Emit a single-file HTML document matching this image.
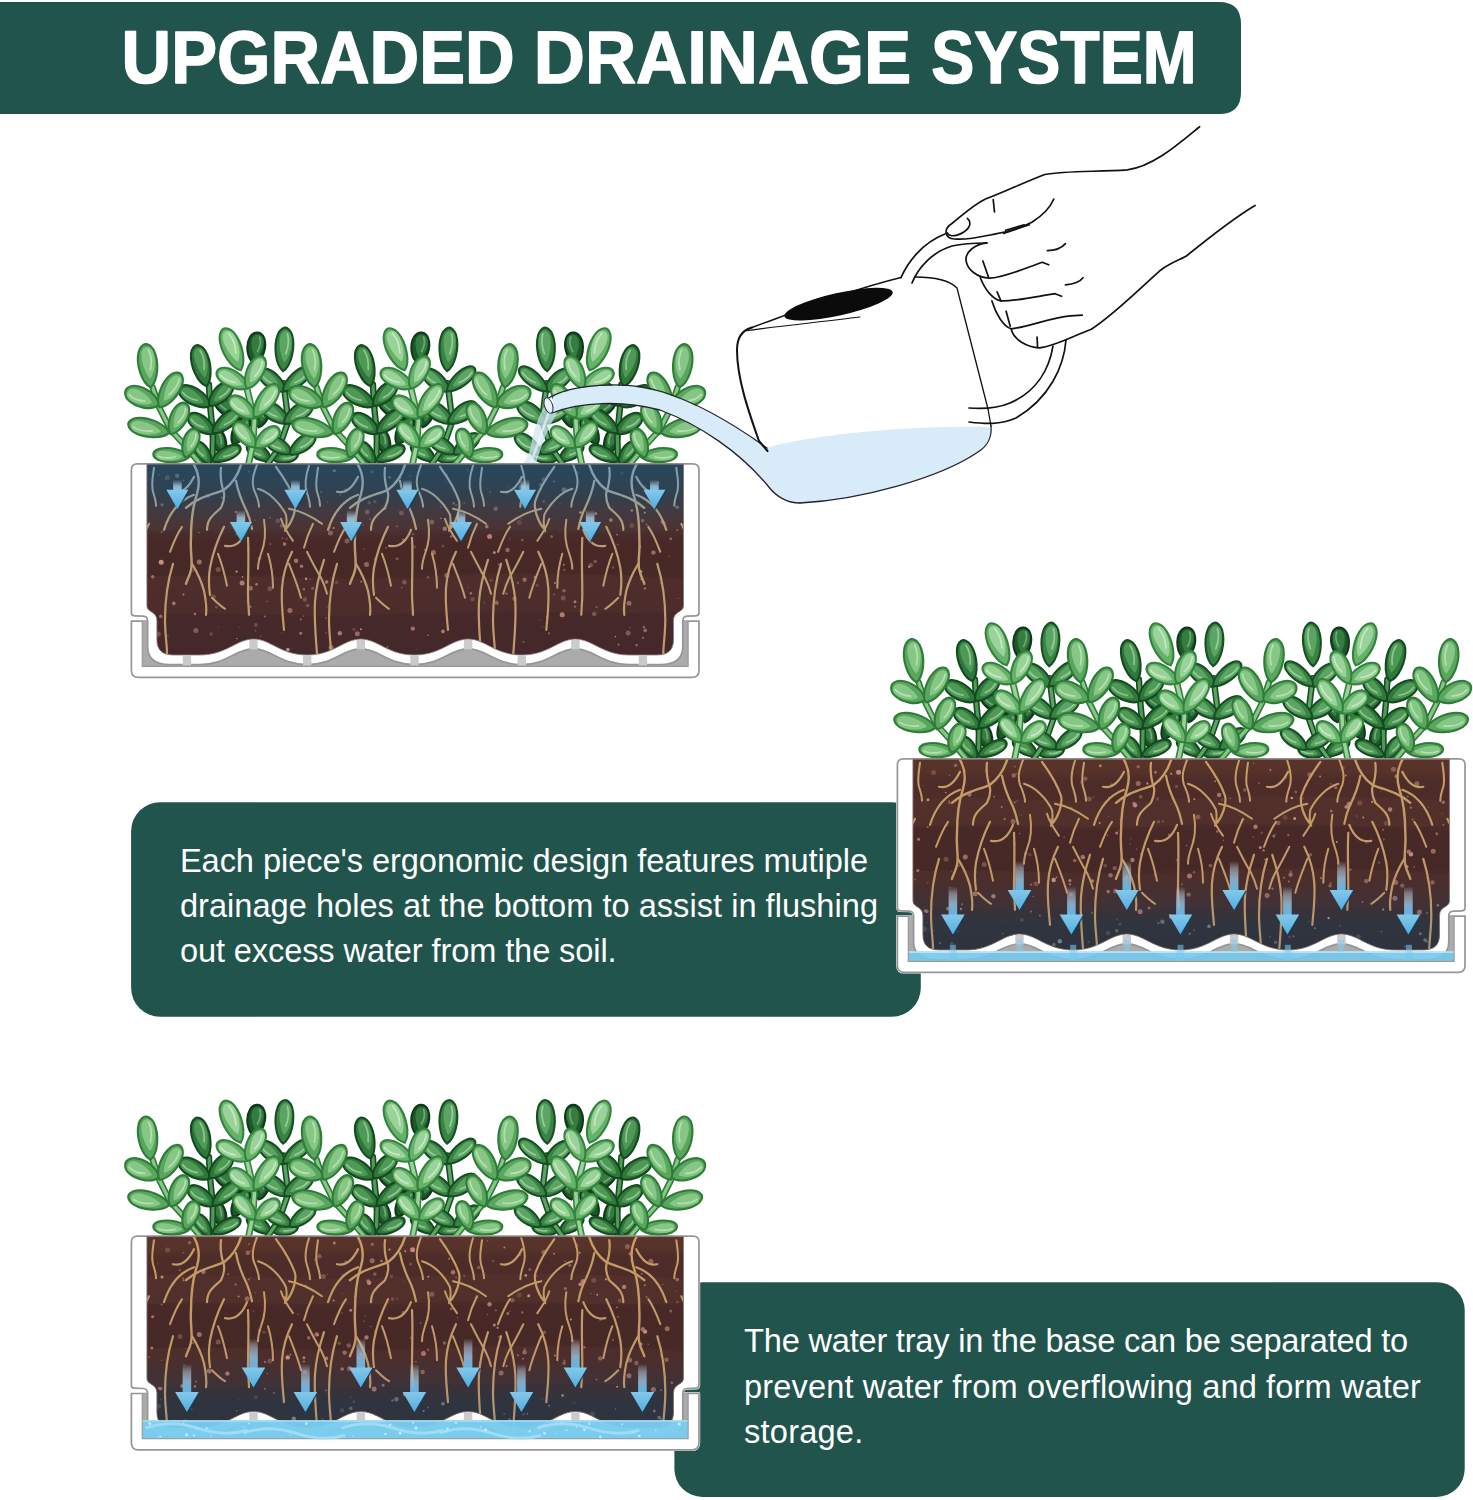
<!DOCTYPE html>
<html lang="en"><head><meta charset="utf-8"><title>Upgraded Drainage System</title>
<style>
html,body{margin:0;padding:0;background:#fff;}
body{width:1473px;height:1500px;position:relative;overflow:hidden;font-family:"Liberation Sans",Arial,sans-serif;}
svg{position:absolute;left:0;top:0;display:block;}
.txt{position:absolute;color:#fff;font-size:32.6px;line-height:45.25px;white-space:nowrap;margin:0;}
.txt span{display:block;}
#t1{left:179.9px;top:837.9px;}
#t2{left:744.1px;top:1318.3px;}
#a1{letter-spacing:-0.055px}#a2{letter-spacing:0.018px}#a3{letter-spacing:-0.110px}
#b1{letter-spacing:-0.213px}#b2{letter-spacing:0.116px}#b3{letter-spacing:0.200px}
</style></head><body>
<svg width="1473" height="1500" viewBox="0 0 1473 1500">
<defs>
<linearGradient id="soilg" x1="0" y1="0" x2="0" y2="1"><stop offset="0" stop-color="#59342b"/><stop offset="0.06" stop-color="#56322a"/><stop offset="0.1" stop-color="#4d2c29"/><stop offset="0.5" stop-color="#492a29"/><stop offset="1" stop-color="#43272b"/></linearGradient>
<linearGradient id="wetTop" x1="0" y1="0" x2="0" y2="1"><stop offset="0" stop-color="#27475c" stop-opacity="1"/><stop offset="0.3" stop-color="#2b4558" stop-opacity="0.92"/><stop offset="0.7" stop-color="#3a3f4c" stop-opacity="0.5"/><stop offset="1" stop-color="#4a3a3c" stop-opacity="0"/></linearGradient>
<linearGradient id="wetLow" x1="0" y1="0" x2="0" y2="1"><stop offset="0" stop-color="#3a3540" stop-opacity="0"/><stop offset="0.28" stop-color="#363640" stop-opacity="0.5"/><stop offset="0.5" stop-color="#2f3540" stop-opacity="0.94"/><stop offset="1" stop-color="#2b323f" stop-opacity="1"/></linearGradient>
<linearGradient id="rootTop" gradientUnits="userSpaceOnUse" x1="0" y1="0" x2="0" y2="214"><stop offset="0" stop-color="#809fad"/><stop offset="0.12" stop-color="#889fa4"/><stop offset="0.3" stop-color="#ba9c75"/><stop offset="1" stop-color="#c29a66"/></linearGradient>
<linearGradient id="rootLow" gradientUnits="userSpaceOnUse" x1="0" y1="0" x2="0" y2="214"><stop offset="0" stop-color="#c69d66"/><stop offset="0.6" stop-color="#bf9867"/><stop offset="0.9" stop-color="#ad9377"/><stop offset="1" stop-color="#a09382"/></linearGradient>
<linearGradient id="tailA" x1="0" y1="0" x2="0" y2="1"><stop offset="0" stop-color="#b9d3e0" stop-opacity="0"/><stop offset="0.6" stop-color="#a9cfe4" stop-opacity="0.8"/><stop offset="1" stop-color="#7cc3e8"/></linearGradient>
<linearGradient id="tailB" x1="0" y1="0" x2="0" y2="1"><stop offset="0" stop-color="#d5e0e8" stop-opacity="0"/><stop offset="0.25" stop-color="#b9cbd8" stop-opacity="0.5"/><stop offset="0.6" stop-color="#93bedb" stop-opacity="0.85"/><stop offset="1" stop-color="#5db5e6"/></linearGradient>
<linearGradient id="headg" x1="0" y1="0" x2="0" y2="1"><stop offset="0" stop-color="#84c8ea"/><stop offset="1" stop-color="#52aee0"/></linearGradient>
<g id="stA"><path d="M76,0.7 L59.7,-19 L44.8,-35.3 L33.9,-57 L27.2,-77.4 " fill="none" stroke="#2f7b39" stroke-width="6.4" stroke-linecap="round" stroke-linejoin="round"/><path d="M76,0.7 L59.7,-19 L44.8,-35.3 L33.9,-57 L27.2,-77.4 " fill="none" stroke="#86c785" stroke-width="3.2" stroke-linecap="round" stroke-linejoin="round"/><g transform="translate(64.4,-8) rotate(-86)"><path d="M0,0 C6.1,-4.8 8.8,-20.5 5.6,-30.8 C4.2,-35 1.4,-36.6 0,-36.6 C-1.4,-36.6 -4.2,-35 -5.6,-30.8 C-8.8,-20.5 -6.1,-4.8 0,0 Z" fill="#5aa65e" stroke="#2f7b39" stroke-width="2.1"/><path d="M0.4,-7.3 C4.3,-11 6.9,-22 4.9,-30 C3.3,-35.5 -2.2,-35.5 -3.6,-29.3 C-5.1,-22 -2.2,-11 0.4,-7.3 Z" fill="#86c785" transform="scale(-1,1)"/><path d="M-1.4,-14.7 Q-4.3,-24.2 -1.9,-31.5" fill="none" stroke="#c2e6bb" stroke-width="1.7" stroke-linecap="round" opacity="0.8"/></g><g transform="translate(59.8,-7.3) rotate(20)"><path d="M0,0 C6.7,-3.9 9.6,-16.8 6.1,-25.3 C4.6,-28.7 1.6,-30.1 0,-30.1 C-1.6,-30.1 -4.6,-28.7 -6.1,-25.3 C-9.6,-16.8 -6.7,-3.9 0,0 Z" fill="#5aa65e" stroke="#2f7b39" stroke-width="2.1"/><path d="M0.4,-6 C4.7,-9 7.5,-18 5.4,-24.7 C3.5,-29.2 -2.4,-29.2 -3.9,-24.1 C-5.5,-18 -2.4,-9 0.4,-6 Z" fill="#86c785" transform="scale(1,1)"/><path d="M1.6,-12 Q4.7,-19.8 2,-25.9" fill="none" stroke="#c2e6bb" stroke-width="1.7" stroke-linecap="round" opacity="0.8"/></g><g transform="translate(43.8,-31.7) rotate(-77)"><path d="M0,0 C7.8,-5.5 11.2,-23.5 7.1,-35.2 C5.3,-40.1 1.8,-42 0,-42 C-1.8,-42 -5.3,-40.1 -7.1,-35.2 C-11.2,-23.5 -7.8,-5.5 0,0 Z" fill="#5aa65e" stroke="#2f7b39" stroke-width="2.1"/><path d="M0.5,-8.4 C5.5,-12.6 8.7,-25.2 6.2,-34.4 C4.1,-40.7 -2.7,-40.7 -4.6,-33.6 C-6.4,-25.2 -2.7,-12.6 0.5,-8.4 Z" fill="#86c785" transform="scale(-1,1)"/><path d="M-1.8,-16.8 Q-5.5,-27.7 -2.4,-36.1" fill="none" stroke="#c2e6bb" stroke-width="1.7" stroke-linecap="round" opacity="0.8"/></g><g transform="translate(45.2,-30.5) rotate(26)"><path d="M0,0 C7.2,-4.5 10.4,-19.2 6.6,-28.8 C4.9,-32.7 1.7,-34.3 0,-34.3 C-1.7,-34.3 -4.9,-32.7 -6.6,-28.8 C-10.4,-19.2 -7.2,-4.5 0,0 Z" fill="#5aa65e" stroke="#2f7b39" stroke-width="2.1"/><path d="M0.4,-6.9 C5.1,-10.3 8.1,-20.6 5.8,-28.1 C3.8,-33.2 -2.6,-33.2 -4.3,-27.4 C-6,-20.6 -2.6,-10.3 0.4,-6.9 Z" fill="#86c785" transform="scale(1,1)"/><path d="M1.7,-13.7 Q5.1,-22.6 2.2,-29.5" fill="none" stroke="#c2e6bb" stroke-width="1.7" stroke-linecap="round" opacity="0.8"/></g><g transform="translate(33.6,-59.4) rotate(-66)"><path d="M0,0 C8.3,-4.8 12,-20.5 7.6,-30.8 C5.7,-35 2,-36.6 0,-36.6 C-2,-36.6 -5.7,-35 -7.6,-30.8 C-12,-20.5 -8.3,-4.8 0,0 Z" fill="#5aa65e" stroke="#2f7b39" stroke-width="2.1"/><path d="M0.5,-7.3 C5.9,-11 9.3,-22 6.7,-30 C4.4,-35.5 -2.9,-35.5 -4.9,-29.3 C-6.9,-22 -2.9,-11 0.5,-7.3 Z" fill="#86c785" transform="scale(-1,1)"/><path d="M-2,-14.7 Q-5.9,-24.2 -2.5,-31.5" fill="none" stroke="#c2e6bb" stroke-width="1.7" stroke-linecap="round" opacity="0.8"/></g><g transform="translate(34,-57.3) rotate(31)"><path d="M0,0 C7.8,-5.2 11.2,-22.3 7.1,-33.5 C5.3,-38.1 1.8,-39.9 0,-39.9 C-1.8,-39.9 -5.3,-38.1 -7.1,-33.5 C-11.2,-22.3 -7.8,-5.2 0,0 Z" fill="#5aa65e" stroke="#2f7b39" stroke-width="2.1"/><path d="M0.5,-8 C5.5,-12 8.7,-23.9 6.2,-32.7 C4.1,-38.7 -2.7,-38.7 -4.6,-31.9 C-6.4,-23.9 -2.7,-12 0.5,-8 Z" fill="#86c785" transform="scale(1,1)"/><path d="M1.8,-15.9 Q5.5,-26.3 2.4,-34.3" fill="none" stroke="#c2e6bb" stroke-width="1.7" stroke-linecap="round" opacity="0.8"/></g><g transform="translate(25.2,-77.2) rotate(-7)"><path d="M0,0 C8.3,-5.7 12,-24.4 7.6,-36.7 C5.7,-41.7 2,-43.6 0,-43.6 C-2,-43.6 -5.7,-41.7 -7.6,-36.7 C-12,-24.4 -8.3,-5.7 0,0 Z" fill="#5aa65e" stroke="#2f7b39" stroke-width="2.1"/><path d="M0.5,-8.7 C5.9,-13.1 9.3,-26.2 6.7,-35.8 C4.4,-42.3 -2.9,-42.3 -4.9,-34.9 C-6.9,-26.2 -2.9,-13.1 0.5,-8.7 Z" fill="#86c785" transform="scale(1,1)"/><path d="M2,-17.5 Q5.9,-28.8 2.5,-37.5" fill="none" stroke="#c2e6bb" stroke-width="1.7" stroke-linecap="round" opacity="0.8"/></g></g><g id="stB"><path d="M86.9,0.7 L87.6,-29.9 L84.9,-57 L83.5,-80.1 " fill="none" stroke="#154a20" stroke-width="6.4" stroke-linecap="round" stroke-linejoin="round"/><path d="M86.9,0.7 L87.6,-29.9 L84.9,-57 L83.5,-80.1 " fill="none" stroke="#4f9957" stroke-width="3.2" stroke-linecap="round" stroke-linejoin="round"/><g transform="translate(85.3,-0.7) rotate(-35)"><path d="M0,0 C5.5,-3.5 7.9,-14.9 5,-22.3 C3.7,-25.4 1.3,-26.6 0,-26.6 C-1.3,-26.6 -3.7,-25.4 -5,-22.3 C-7.9,-14.9 -5.5,-3.5 0,0 Z" fill="#2f773b" stroke="#154a20" stroke-width="2.1"/><path d="M0.3,-5.3 C3.9,-8 6.1,-15.9 4.4,-21.8 C2.9,-25.8 -1.9,-25.8 -3.2,-21.3 C-4.5,-15.9 -1.9,-8 0.3,-5.3 Z" fill="#4f9957" transform="scale(-1,1)"/><path d="M-1.3,-10.6 Q-3.9,-17.5 -1.7,-22.9" fill="none" stroke="#a0d0a0" stroke-width="1.7" stroke-linecap="round" opacity="0.8"/></g><g transform="translate(86.6,-3.7) rotate(64)"><path d="M0,0 C5.6,-4.1 8,-17.6 5.1,-26.4 C3.8,-30.1 1.3,-31.5 0,-31.5 C-1.3,-31.5 -3.8,-30.1 -5.1,-26.4 C-8,-17.6 -5.6,-4.1 0,0 Z" fill="#2f773b" stroke="#154a20" stroke-width="2.1"/><path d="M0.3,-6.3 C3.9,-9.4 6.2,-18.9 4.5,-25.8 C3,-30.5 -2,-30.5 -3.3,-25.2 C-4.6,-18.9 -2,-9.4 0.3,-6.3 Z" fill="#4f9957" transform="scale(1,1)"/><path d="M1.3,-12.6 Q3.9,-20.8 1.7,-27.1" fill="none" stroke="#a0d0a0" stroke-width="1.7" stroke-linecap="round" opacity="0.8"/></g><g transform="translate(89.2,-31.4) rotate(-55)"><path d="M0,0 C6.7,-4.1 9.6,-17.6 6.1,-26.4 C4.6,-30.1 1.6,-31.5 0,-31.5 C-1.6,-31.5 -4.6,-30.1 -6.1,-26.4 C-9.6,-17.6 -6.7,-4.1 0,0 Z" fill="#2f773b" stroke="#154a20" stroke-width="2.1"/><path d="M0.4,-6.3 C4.7,-9.4 7.5,-18.9 5.4,-25.8 C3.5,-30.5 -2.4,-30.5 -3.9,-25.2 C-5.5,-18.9 -2.4,-9.4 0.4,-6.3 Z" fill="#4f9957" transform="scale(-1,1)"/><path d="M-1.6,-12.6 Q-4.7,-20.8 -2,-27.1" fill="none" stroke="#a0d0a0" stroke-width="1.7" stroke-linecap="round" opacity="0.8"/></g><g transform="translate(87.1,-31.7) rotate(50)"><path d="M0,0 C6.1,-4.6 8.8,-20 5.6,-30 C4.2,-34.1 1.4,-35.7 0,-35.7 C-1.4,-35.7 -4.2,-34.1 -5.6,-30 C-8.8,-20 -6.1,-4.6 0,0 Z" fill="#2f773b" stroke="#154a20" stroke-width="2.1"/><path d="M0.4,-7.1 C4.3,-10.7 6.9,-21.4 4.9,-29.2 C3.3,-34.6 -2.2,-34.6 -3.6,-28.5 C-5.1,-21.4 -2.2,-10.7 0.4,-7.1 Z" fill="#4f9957" transform="scale(1,1)"/><path d="M1.4,-14.3 Q4.3,-23.5 1.9,-30.7" fill="none" stroke="#a0d0a0" stroke-width="1.7" stroke-linecap="round" opacity="0.8"/></g><g transform="translate(85,-58.7) rotate(-60)"><path d="M0,0 C7.2,-4.6 10.4,-20 6.6,-30 C4.9,-34.1 1.7,-35.7 0,-35.7 C-1.7,-35.7 -4.9,-34.1 -6.6,-30 C-10.4,-20 -7.2,-4.6 0,0 Z" fill="#2f773b" stroke="#154a20" stroke-width="2.1"/><path d="M0.4,-7.1 C5.1,-10.7 8.1,-21.4 5.8,-29.2 C3.8,-34.6 -2.6,-34.6 -4.3,-28.5 C-6,-21.4 -2.6,-10.7 0.4,-7.1 Z" fill="#4f9957" transform="scale(-1,1)"/><path d="M-1.7,-14.3 Q-5.1,-23.5 -2.2,-30.7" fill="none" stroke="#a0d0a0" stroke-width="1.7" stroke-linecap="round" opacity="0.8"/></g><g transform="translate(83.9,-59.2) rotate(45)"><path d="M0,0 C6.7,-4.1 9.6,-17.6 6.1,-26.4 C4.6,-30.1 1.6,-31.5 0,-31.5 C-1.6,-31.5 -4.6,-30.1 -6.1,-26.4 C-9.6,-17.6 -6.7,-4.1 0,0 Z" fill="#2f773b" stroke="#154a20" stroke-width="2.1"/><path d="M0.4,-6.3 C4.7,-9.4 7.5,-18.9 5.4,-25.8 C3.5,-30.5 -2.4,-30.5 -3.9,-25.2 C-5.5,-18.9 -2.4,-9.4 0.4,-6.3 Z" fill="#4f9957" transform="scale(1,1)"/><path d="M1.6,-12.6 Q4.7,-20.8 2,-27.1" fill="none" stroke="#a0d0a0" stroke-width="1.7" stroke-linecap="round" opacity="0.8"/></g><g transform="translate(81.1,-78.4) rotate(-14)"><path d="M0,0 C7.8,-5.5 11.2,-23.7 7.1,-35.5 C5.3,-40.3 1.8,-42.2 0,-42.2 C-1.8,-42.2 -5.3,-40.3 -7.1,-35.5 C-11.2,-23.7 -7.8,-5.5 0,0 Z" fill="#2f773b" stroke="#154a20" stroke-width="2.1"/><path d="M0.5,-8.4 C5.5,-12.7 8.7,-25.3 6.2,-34.6 C4.1,-41 -2.7,-41 -4.6,-33.8 C-6.4,-25.3 -2.7,-12.7 0.5,-8.4 Z" fill="#4f9957" transform="scale(1,1)"/><path d="M1.8,-16.9 Q5.5,-27.9 2.4,-36.3" fill="none" stroke="#a0d0a0" stroke-width="1.7" stroke-linecap="round" opacity="0.8"/></g></g><g id="stC"><path d="M122.9,0.7 L127.6,-21.7 L129,-43.4 L124.2,-65.2 L120.2,-81.5 " fill="none" stroke="#33833e" stroke-width="6.8" stroke-linecap="round" stroke-linejoin="round"/><path d="M122.9,0.7 L127.6,-21.7 L129,-43.4 L124.2,-65.2 L120.2,-81.5 " fill="none" stroke="#9ad399" stroke-width="3.6" stroke-linecap="round" stroke-linejoin="round"/><g transform="translate(129.9,-17.5) rotate(-40)"><path d="M0,0 C6.7,-4.1 9.6,-17.6 6.1,-26.4 C4.6,-30.1 1.6,-31.5 0,-31.5 C-1.6,-31.5 -4.6,-30.1 -6.1,-26.4 C-9.6,-17.6 -6.7,-4.1 0,0 Z" fill="#66b26b" stroke="#33833e" stroke-width="2.1"/><path d="M0.4,-6.3 C4.7,-9.4 7.5,-18.9 5.4,-25.8 C3.5,-30.5 -2.4,-30.5 -3.9,-25.2 C-5.5,-18.9 -2.4,-9.4 0.4,-6.3 Z" fill="#9ad399" transform="scale(-1,1)"/><path d="M-1.6,-12.6 Q-4.7,-20.8 -2,-27.1" fill="none" stroke="#d2eecb" stroke-width="1.7" stroke-linecap="round" opacity="0.8"/></g><g transform="translate(130,-17.2) rotate(50)"><path d="M0,0 C6.7,-3.9 9.6,-16.8 6.1,-25.3 C4.6,-28.7 1.6,-30.1 0,-30.1 C-1.6,-30.1 -4.6,-28.7 -6.1,-25.3 C-9.6,-16.8 -6.7,-3.9 0,0 Z" fill="#66b26b" stroke="#33833e" stroke-width="2.1"/><path d="M0.4,-6 C4.7,-9 7.5,-18 5.4,-24.7 C3.5,-29.2 -2.4,-29.2 -3.9,-24.1 C-5.5,-18 -2.4,-9 0.4,-6 Z" fill="#9ad399" transform="scale(1,1)"/><path d="M1.6,-12 Q4.7,-19.8 2,-25.9" fill="none" stroke="#d2eecb" stroke-width="1.7" stroke-linecap="round" opacity="0.8"/></g><g transform="translate(130,-46.6) rotate(-52)"><path d="M0,0 C7.2,-4.3 10.4,-18.4 6.6,-27.6 C4.9,-31.4 1.7,-32.9 0,-32.9 C-1.7,-32.9 -4.9,-31.4 -6.6,-27.6 C-10.4,-18.4 -7.2,-4.3 0,0 Z" fill="#66b26b" stroke="#33833e" stroke-width="2.1"/><path d="M0.4,-6.6 C5.1,-9.9 8.1,-19.7 5.8,-26.9 C3.8,-31.9 -2.6,-31.9 -4.3,-26.3 C-6,-19.7 -2.6,-9.9 0.4,-6.6 Z" fill="#9ad399" transform="scale(-1,1)"/><path d="M-1.7,-13.1 Q-5.1,-21.7 -2.2,-28.3" fill="none" stroke="#d2eecb" stroke-width="1.7" stroke-linecap="round" opacity="0.8"/></g><g transform="translate(128.7,-47.2) rotate(35)"><path d="M0,0 C7.2,-5.2 10.4,-22.3 6.6,-33.5 C4.9,-38.1 1.7,-39.9 0,-39.9 C-1.7,-39.9 -4.9,-38.1 -6.6,-33.5 C-10.4,-22.3 -7.2,-5.2 0,0 Z" fill="#66b26b" stroke="#33833e" stroke-width="2.1"/><path d="M0.4,-8 C5.1,-12 8.1,-23.9 5.8,-32.7 C3.8,-38.7 -2.6,-38.7 -4.3,-31.9 C-6,-23.9 -2.6,-12 0.4,-8 Z" fill="#9ad399" transform="scale(1,1)"/><path d="M1.7,-15.9 Q5.1,-26.3 2.2,-34.3" fill="none" stroke="#d2eecb" stroke-width="1.7" stroke-linecap="round" opacity="0.8"/></g><g transform="translate(123.3,-76.9) rotate(-62)"><path d="M0,0 C7.2,-4.6 10.4,-20 6.6,-30 C4.9,-34.1 1.7,-35.7 0,-35.7 C-1.7,-35.7 -4.9,-34.1 -6.6,-30 C-10.4,-20 -7.2,-4.6 0,0 Z" fill="#66b26b" stroke="#33833e" stroke-width="2.1"/><path d="M0.4,-7.1 C5.1,-10.7 8.1,-21.4 5.8,-29.2 C3.8,-34.6 -2.6,-34.6 -4.3,-28.5 C-6,-21.4 -2.6,-10.7 0.4,-7.1 Z" fill="#9ad399" transform="scale(-1,1)"/><path d="M-1.7,-14.3 Q-5.1,-23.5 -2.2,-30.7" fill="none" stroke="#d2eecb" stroke-width="1.7" stroke-linecap="round" opacity="0.8"/></g><g transform="translate(121.4,-76) rotate(26)"><path d="M0,0 C7.2,-4.6 10.4,-20 6.6,-30 C4.9,-34.1 1.7,-35.7 0,-35.7 C-1.7,-35.7 -4.9,-34.1 -6.6,-30 C-10.4,-20 -7.2,-4.6 0,0 Z" fill="#66b26b" stroke="#33833e" stroke-width="2.1"/><path d="M0.4,-7.1 C5.1,-10.7 8.1,-21.4 5.8,-29.2 C3.8,-34.6 -2.6,-34.6 -4.3,-28.5 C-6,-21.4 -2.6,-10.7 0.4,-7.1 Z" fill="#9ad399" transform="scale(1,1)"/><path d="M1.7,-14.3 Q5.1,-23.5 2.2,-30.7" fill="none" stroke="#d2eecb" stroke-width="1.7" stroke-linecap="round" opacity="0.8"/></g><g transform="translate(115.4,-94.3) rotate(-22)"><path d="M0,0 C8.3,-5.9 12,-25.2 7.6,-37.8 C5.7,-43 2,-45 0,-45 C-2,-45 -5.7,-43 -7.6,-37.8 C-12,-25.2 -8.3,-5.9 0,0 Z" fill="#66b26b" stroke="#33833e" stroke-width="2.1"/><path d="M0.5,-9 C5.9,-13.5 9.3,-27 6.7,-36.9 C4.4,-43.7 -2.9,-43.7 -4.9,-36 C-6.9,-27 -2.9,-13.5 0.5,-9 Z" fill="#9ad399" transform="scale(1,1)"/><path d="M2,-18 Q5.9,-29.7 2.5,-38.7" fill="none" stroke="#d2eecb" stroke-width="1.7" stroke-linecap="round" opacity="0.8"/></g></g><g id="stD"><g transform="translate(129,-100.8) rotate(6)"><path d="M0,0 C7.8,-4.1 11.2,-17.6 7.1,-26.4 C5.3,-30.1 1.8,-31.5 0,-31.5 C-1.8,-31.5 -5.3,-30.1 -7.1,-26.4 C-11.2,-17.6 -7.8,-4.1 0,0 Z" fill="#1d5829" stroke="#10391a" stroke-width="2.1"/><path d="M0.5,-6.3 C5.5,-9.4 8.7,-18.9 6.2,-25.8 C4.1,-30.5 -2.7,-30.5 -4.6,-25.2 C-6.4,-18.9 -2.7,-9.4 0.5,-6.3 Z" fill="#357c40" transform="scale(1,1)"/><path d="M1.8,-12.6 Q5.5,-20.8 2.4,-27.1" fill="none" stroke="#80b384" stroke-width="1.7" stroke-linecap="round" opacity="0.8"/></g><g transform="translate(110.1,-46.1) rotate(-40)"><path d="M0,0 C6.6,-4.2 9.4,-18 6,-27 C4.5,-30.7 1.5,-32.2 0,-32.2 C-1.5,-32.2 -4.5,-30.7 -6,-27 C-9.4,-18 -6.6,-4.2 0,0 Z" fill="#1d5829" stroke="#10391a" stroke-width="2.1"/><path d="M0.4,-6.4 C4.6,-9.6 7.4,-19.3 5.3,-26.4 C3.5,-31.2 -2.3,-31.2 -3.9,-25.7 C-5.4,-19.3 -2.3,-9.6 0.4,-6.4 Z" fill="#357c40" transform="scale(-1,1)"/><path d="M-1.5,-12.9 Q-4.6,-21.2 -2,-27.7" fill="none" stroke="#80b384" stroke-width="1.7" stroke-linecap="round" opacity="0.8"/></g><g transform="translate(107.5,-20.4) rotate(28)"><path d="M0,0 C6.3,-4 9,-17.2 5.8,-25.8 C4.3,-29.4 1.5,-30.8 0,-30.8 C-1.5,-30.8 -4.3,-29.4 -5.8,-25.8 C-9,-17.2 -6.3,-4 0,0 Z" fill="#1d5829" stroke="#10391a" stroke-width="2.1"/><path d="M0.4,-6.2 C4.5,-9.2 7,-18.5 5,-25.2 C3.3,-29.8 -2.2,-29.8 -3.7,-24.6 C-5.2,-18.5 -2.2,-9.2 0.4,-6.2 Z" fill="#357c40" transform="scale(1,1)"/><path d="M1.5,-12.3 Q4.5,-20.3 1.9,-26.5" fill="none" stroke="#80b384" stroke-width="1.7" stroke-linecap="round" opacity="0.8"/></g><g transform="translate(145.2,-4.2) rotate(-55)"><path d="M0,0 C6,-3.6 8.7,-15.7 5.5,-23.5 C4.1,-26.7 1.4,-28 0,-28 C-1.4,-28 -4.1,-26.7 -5.5,-23.5 C-8.7,-15.7 -6,-3.6 0,0 Z" fill="#2f773b" stroke="#154a20" stroke-width="2.1"/><path d="M0.4,-5.6 C4.3,-8.4 6.7,-16.8 4.8,-22.9 C3.2,-27.1 -2.1,-27.1 -3.5,-22.4 C-5,-16.8 -2.1,-8.4 0.4,-5.6 Z" fill="#4f9957" transform="scale(-1,1)"/><path d="M-1.4,-11.2 Q-4.3,-18.5 -1.8,-24.1" fill="none" stroke="#a0d0a0" stroke-width="1.7" stroke-linecap="round" opacity="0.8"/></g><g transform="translate(133.3,-37.4) rotate(15)"><path d="M0,0 C6.3,-3.8 9,-16.4 5.8,-24.7 C4.3,-28 1.5,-29.4 0,-29.4 C-1.5,-29.4 -4.3,-28 -5.8,-24.7 C-9,-16.4 -6.3,-3.8 0,0 Z" fill="#1d5829" stroke="#10391a" stroke-width="2.1"/><path d="M0.4,-5.9 C4.5,-8.8 7,-17.6 5,-24.1 C3.3,-28.5 -2.2,-28.5 -3.7,-23.5 C-5.2,-17.6 -2.2,-8.8 0.4,-5.9 Z" fill="#357c40" transform="scale(1,1)"/><path d="M1.5,-11.7 Q4.5,-19.4 1.9,-25.3" fill="none" stroke="#80b384" stroke-width="1.7" stroke-linecap="round" opacity="0.8"/></g><g transform="translate(98.5,-9.9) rotate(-20)"><path d="M0,0 C6,-3.6 8.7,-15.7 5.5,-23.5 C4.1,-26.7 1.4,-28 0,-28 C-1.4,-28 -4.1,-26.7 -5.5,-23.5 C-8.7,-15.7 -6,-3.6 0,0 Z" fill="#1d5829" stroke="#10391a" stroke-width="2.1"/><path d="M0.4,-5.6 C4.3,-8.4 6.7,-16.8 4.8,-22.9 C3.2,-27.1 -2.1,-27.1 -3.5,-22.4 C-5,-16.8 -2.1,-8.4 0.4,-5.6 Z" fill="#357c40" transform="scale(1,1)"/><path d="M1.4,-11.2 Q4.3,-18.5 1.8,-24.1" fill="none" stroke="#80b384" stroke-width="1.7" stroke-linecap="round" opacity="0.8"/></g><g transform="translate(148.1,-4.9) rotate(75)"><path d="M0,0 C5.5,-3.3 7.9,-14.1 5,-21.1 C3.7,-24 1.3,-25.2 0,-25.2 C-1.3,-25.2 -3.7,-24 -5,-21.1 C-7.9,-14.1 -5.5,-3.3 0,0 Z" fill="#2f773b" stroke="#154a20" stroke-width="2.1"/><path d="M0.3,-5 C3.9,-7.6 6.1,-15.1 4.4,-20.6 C2.9,-24.4 -1.9,-24.4 -3.2,-20.1 C-4.5,-15.1 -1.9,-7.6 0.3,-5 Z" fill="#4f9957" transform="scale(1,1)"/><path d="M1.3,-10.1 Q3.9,-16.6 1.7,-21.6" fill="none" stroke="#a0d0a0" stroke-width="1.7" stroke-linecap="round" opacity="0.8"/></g><path d="M141.2,0.7 L153.4,-16.3 L162.9,-43.4 L158.2,-81.5 " fill="none" stroke="#174f23" stroke-width="6.4" stroke-linecap="round" stroke-linejoin="round"/><path d="M141.2,0.7 L153.4,-16.3 L162.9,-43.4 L158.2,-81.5 " fill="none" stroke="#5ca463" stroke-width="3.2" stroke-linecap="round" stroke-linejoin="round"/><g transform="translate(166.1,-11.4) rotate(-60)"><path d="M0,0 C6,-3.8 8.7,-16.4 5.5,-24.7 C4.1,-28 1.4,-29.4 0,-29.4 C-1.4,-29.4 -4.1,-28 -5.5,-24.7 C-8.7,-16.4 -6,-3.8 0,0 Z" fill="#398444" stroke="#174f23" stroke-width="2.1"/><path d="M0.4,-5.9 C4.3,-8.8 6.7,-17.6 4.8,-24.1 C3.2,-28.5 -2.1,-28.5 -3.5,-23.5 C-5,-17.6 -2.1,-8.8 0.4,-5.9 Z" fill="#5ca463" transform="scale(-1,1)"/><path d="M-1.4,-11.7 Q-4.3,-19.4 -1.8,-25.3" fill="none" stroke="#a8d6a7" stroke-width="1.7" stroke-linecap="round" opacity="0.8"/></g><g transform="translate(164.4,-10.4) rotate(52)"><path d="M0,0 C6.1,-4.1 8.8,-17.6 5.6,-26.4 C4.2,-30.1 1.4,-31.5 0,-31.5 C-1.4,-31.5 -4.2,-30.1 -5.6,-26.4 C-8.8,-17.6 -6.1,-4.1 0,0 Z" fill="#398444" stroke="#174f23" stroke-width="2.1"/><path d="M0.4,-6.3 C4.3,-9.4 6.9,-18.9 4.9,-25.8 C3.3,-30.5 -2.2,-30.5 -3.6,-25.2 C-5.1,-18.9 -2.2,-9.4 0.4,-6.3 Z" fill="#5ca463" transform="scale(1,1)"/><path d="M1.4,-12.6 Q4.3,-20.8 1.9,-27.1" fill="none" stroke="#a8d6a7" stroke-width="1.7" stroke-linecap="round" opacity="0.8"/></g><g transform="translate(163.7,-41.5) rotate(-55)"><path d="M0,0 C6.7,-4.5 9.6,-19.2 6.1,-28.8 C4.6,-32.7 1.6,-34.3 0,-34.3 C-1.6,-34.3 -4.6,-32.7 -6.1,-28.8 C-9.6,-19.2 -6.7,-4.5 0,0 Z" fill="#398444" stroke="#174f23" stroke-width="2.1"/><path d="M0.4,-6.9 C4.7,-10.3 7.5,-20.6 5.4,-28.1 C3.5,-33.2 -2.4,-33.2 -3.9,-27.4 C-5.5,-20.6 -2.4,-10.3 0.4,-6.9 Z" fill="#5ca463" transform="scale(-1,1)"/><path d="M-1.6,-13.7 Q-4.7,-22.6 -2,-29.5" fill="none" stroke="#a8d6a7" stroke-width="1.7" stroke-linecap="round" opacity="0.8"/></g><g transform="translate(158.7,-41.5) rotate(55)"><path d="M0,0 C6.7,-4.5 9.6,-19.2 6.1,-28.8 C4.6,-32.7 1.6,-34.3 0,-34.3 C-1.6,-34.3 -4.6,-32.7 -6.1,-28.8 C-9.6,-19.2 -6.7,-4.5 0,0 Z" fill="#398444" stroke="#174f23" stroke-width="2.1"/><path d="M0.4,-6.9 C4.7,-10.3 7.5,-20.6 5.4,-28.1 C3.5,-33.2 -2.4,-33.2 -3.9,-27.4 C-5.5,-20.6 -2.4,-10.3 0.4,-6.9 Z" fill="#5ca463" transform="scale(1,1)"/><path d="M1.6,-13.7 Q4.7,-22.6 2,-29.5" fill="none" stroke="#a8d6a7" stroke-width="1.7" stroke-linecap="round" opacity="0.8"/></g><g transform="translate(159.5,-73.3) rotate(-50)"><path d="M0,0 C6.7,-4.3 9.6,-18.4 6.1,-27.6 C4.6,-31.4 1.6,-32.9 0,-32.9 C-1.6,-32.9 -4.6,-31.4 -6.1,-27.6 C-9.6,-18.4 -6.7,-4.3 0,0 Z" fill="#398444" stroke="#174f23" stroke-width="2.1"/><path d="M0.4,-6.6 C4.7,-9.9 7.5,-19.7 5.4,-26.9 C3.5,-31.9 -2.4,-31.9 -3.9,-26.3 C-5.5,-19.7 -2.4,-9.9 0.4,-6.6 Z" fill="#5ca463" transform="scale(-1,1)"/><path d="M-1.6,-13.1 Q-4.7,-21.7 -2,-28.3" fill="none" stroke="#a8d6a7" stroke-width="1.7" stroke-linecap="round" opacity="0.8"/></g><g transform="translate(157.7,-73.8) rotate(50)"><path d="M0,0 C6.1,-4.6 8.8,-20 5.6,-30 C4.2,-34.1 1.4,-35.7 0,-35.7 C-1.4,-35.7 -4.2,-34.1 -5.6,-30 C-8.8,-20 -6.1,-4.6 0,0 Z" fill="#398444" stroke="#174f23" stroke-width="2.1"/><path d="M0.4,-7.1 C4.3,-10.7 6.9,-21.4 4.9,-29.2 C3.3,-34.6 -2.2,-34.6 -3.6,-28.5 C-5.1,-21.4 -2.2,-10.7 0.4,-7.1 Z" fill="#5ca463" transform="scale(1,1)"/><path d="M1.4,-14.3 Q4.3,-23.5 1.9,-30.7" fill="none" stroke="#a8d6a7" stroke-width="1.7" stroke-linecap="round" opacity="0.8"/></g><g transform="translate(157.7,-93.4) rotate(3)"><path d="M0,0 C7.8,-5.7 11.2,-24.4 7.1,-36.7 C5.3,-41.7 1.8,-43.6 0,-43.6 C-1.8,-43.6 -5.3,-41.7 -7.1,-36.7 C-11.2,-24.4 -7.8,-5.7 0,0 Z" fill="#398444" stroke="#174f23" stroke-width="2.1"/><path d="M0.5,-8.7 C5.5,-13.1 8.7,-26.2 6.2,-35.8 C4.1,-42.3 -2.7,-42.3 -4.6,-34.9 C-6.4,-26.2 -2.7,-13.1 0.5,-8.7 Z" fill="#5ca463" transform="scale(1,1)"/><path d="M1.8,-17.5 Q5.5,-28.8 2.4,-37.5" fill="none" stroke="#a8d6a7" stroke-width="1.7" stroke-linecap="round" opacity="0.8"/></g></g>
</defs>
<rect width="1473" height="1500" fill="#fff"/>
<path d="M0,2 L1219,2 Q1241,2 1241,24 L1241,92 Q1241,114 1219,114 L0,114 Z" fill="#20544c"/>
<rect x="131.1" y="802.2" width="789.7" height="214.6" rx="29" fill="#20544c"/>
<rect x="674.4" y="1282.2" width="790.3" height="214.8" rx="28" fill="#20544c"/>
<clipPath id="pc1"><rect x="91.4" y="293.8" width="647.6" height="170.8"/></clipPath><g clip-path="url(#pc1)"><use href="#stD" x="125.4" y="464.6"/><use href="#stD" x="289.4" y="464.6"/><use href="#stD" transform="translate(704.9,464.6) scale(-1,1)"/><use href="#stB" x="125.4" y="464.6"/><use href="#stB" x="289.4" y="464.6"/><use href="#stB" transform="translate(704.9,464.6) scale(-1,1)"/><use href="#stA" x="125.4" y="464.6"/><use href="#stA" x="289.4" y="464.6"/><use href="#stA" transform="translate(704.9,464.6) scale(-1,1)"/><use href="#stA" transform="translate(530.2,464.6) scale(-1,1)"/><use href="#stC" x="125.4" y="464.6"/><use href="#stC" x="289.4" y="464.6"/><use href="#stC" transform="translate(704.9,464.6) scale(-1,1)"/></g>
<path d="M553,397 C575,384 626,381 663,393 C704,406 742,430 767,448 C800,437 900,425 990,427 C992,436 988,446 978,452 C940,478 860,500 800,503 C785,503 775,495 768,486 C740,452 700,425 660,410 C622,400 580,402 553,413 Z" fill="#d8ebf8"/>
<path d="M545,406 C539,414 534,430 531,445 C529,455 526,460 523,464 L536,464 C540,450 546,432 557,413 Z" fill="#cfe6f3" opacity="0.72"/><path d="M549,412 C544,425 539,442 531,462" fill="none" stroke="#eef7fc" stroke-width="2.5" opacity="0.7"/>
<g fill="none" stroke="#111" stroke-width="1.7" stroke-linecap="round" stroke-linejoin="round">
<path d="M547,399 C570,384 626,380 663,392 C704,405 742,430 767,448" stroke="#223" stroke-width="1.3"/>
<path d="M552,413 C580,402 622,400 660,410 C700,425 740,452 768,486 C775,495 785,503 800,503" stroke="#223" stroke-width="1.3"/>
<ellipse cx="548.5" cy="405.5" rx="4" ry="8" transform="rotate(-18 548.5 405.5)" stroke="#334" stroke-width="1" fill="#e6f2fa"/>
<path d="M800,503 C860,500 940,478 978,452 C988,446 992,436 991,426" stroke="#223" stroke-width="1.3"/>
<path d="M767.5,451 L759,441 C748,410 737,378 737,350 C737,336 743,330 752,327.5" stroke-width="2"/>
<path d="M752,327.5 C800,310 850,290 901,277.5" stroke-width="1.4"/>
<path d="M744,331 C780,326 820,322 860,317" stroke-width="1.2"/>
<path d="M915,277 C935,277 950,281 957,288 L988,409" stroke-width="1.3"/>
<path d="M988,409 L991,426" stroke-width="1.3"/>
<path d="M901,277.5 C908,262 922,243 945,234"/>
<path d="M912,283 C918,268 932,252 952,246 C965,243 977,243 987,243"/>
<path d="M1066,340 C1064,366 1050,398 1016,418 C1000,425 985,424 969,422"/>
<path d="M1053,346 C1049,370 1036,392 1010,403 C996,409 982,409 969,408"/>
</g>
<ellipse cx="838.5" cy="304.2" rx="55.5" ry="11.3" transform="rotate(-12.6 838.5 304.2)" fill="#0b0b0b"/>
<g transform="translate(890,110) scale(0.258)" fill="none" stroke="#111" stroke-width="6.6" stroke-linecap="round" stroke-linejoin="round">
<path d="M1200,65 C1120,130 1020,220 920,232 C800,240 680,235 600,250 C520,280 440,320 370,345 C320,370 290,400 240,440 C205,462 212,498 250,500 C300,505 360,490 410,480 C470,470 520,450 550,435 C590,410 620,380 635,345"/>
<path d="M300,420 C322,440 305,470 260,485 C240,490 226,486 222,476"/>
<path d="M400,347 L405,395"/>
<path d="M440,478 L540,445 M448,466 L520,445"/>
<path d="M375,515 C330,520 290,550 295,585 C300,620 340,650 385,652 C440,650 520,615 590,590 L615,600"/>
<path d="M360,585 L382,648"/>
<path d="M610,545 C640,545 665,535 680,518"/>
<path d="M350,650 C370,700 400,735 430,740 C500,740 580,720 640,712 L665,722"/>
<path d="M415,705 L430,740"/>
<path d="M680,678 C710,675 735,668 748,650"/>
<path d="M395,740 C410,790 440,840 470,848 C540,840 620,805 700,798 L745,795"/>
<path d="M450,780 L466,838"/>
<path d="M470,850 C480,890 530,920 580,922 C640,915 700,880 780,850 C860,800 960,700 1050,620 C1090,590 1130,578 1150,565 C1230,500 1330,420 1415,370"/>
<path d="M570,880 L572,920"/>
</g>
<g transform="translate(131.4,463.8)">
<path d="M0,157.3 L567.6,157.3 L567.6,206.6 Q567.6,213.6 560.6,213.6 L7,213.6 Q0,213.6 0,206.6 Z" fill="#fff" stroke="#969696" stroke-width="1.7"/>
<rect x="10.9" y="157.3" width="545.8" height="45.2" fill="#ababab"/>
<path d="M10.9,157.3 L10.9,202.5 L556.7,202.5 L556.7,157.3" fill="none" stroke="#999" stroke-width="1.2"/>
<path d="M6,0 Q0,0 0,6 L0,149 Q0,152 3,152 L12,152.3 C17,152.6 16.2,157 16.2,161 L16.2,182.8 C16.2,195.8 24,200.8 38,200.8 L68.5,200.8 C95.3,200.8 104.9,184.9 122.1,184.9 C139.3,184.9 148.9,200.8 175.8,200.8 C202.6,200.8 212.2,184.9 229.4,184.9 C246.6,184.9 256.2,200.8 283.1,200.8 C309.9,200.8 319.5,184.9 336.7,184.9 C353.9,184.9 363.5,200.8 390.4,200.8 C417.2,200.8 426.8,184.9 444,184.9 C461.2,184.9 470.9,200.8 497.7,200.8 L529.6,200.8 C543.6,200.8 551.4,195.8 551.4,182.8 L551.4,161 C551.4,157 550.6,152.6 555.6,152.3 L564.6,152 Q567.6,152 567.6,149 L567.6,6 Q567.6,0 561.6,0 Z" fill="#fff" stroke="#969696" stroke-width="1.7" stroke-linejoin="round"/>
<rect x="51.3" y="192" width="8.4" height="9.6" fill="#cbcbcb"/>
<rect x="171.6" y="192" width="8.4" height="9.6" fill="#cbcbcb"/>
<rect x="278.9" y="192" width="8.4" height="9.6" fill="#cbcbcb"/>
<rect x="386.2" y="192" width="8.4" height="9.6" fill="#cbcbcb"/>
<rect x="507.3" y="192" width="8.4" height="9.6" fill="#cbcbcb"/>
<rect x="117.9" y="176.1" width="8.4" height="9.6" fill="#cbcbcb"/>
<rect x="225.2" y="176.1" width="8.4" height="9.6" fill="#cbcbcb"/>
<rect x="332.5" y="176.1" width="8.4" height="9.6" fill="#cbcbcb"/>
<rect x="439.8" y="176.1" width="8.4" height="9.6" fill="#cbcbcb"/>
<clipPath id="sc1"><path d="M15.5,0.4 L15.5,142 C15.5,149 25.5,147 25.5,157 L25.5,176.2 C25.5,186.2 31,191.2 42,191.2 L68.5,191.2 C95.3,191.2 104.9,175.3 122.1,175.3 C139.3,175.3 148.9,191.2 175.8,191.2 C202.6,191.2 212.2,175.3 229.4,175.3 C246.6,175.3 256.2,191.2 283.1,191.2 C309.9,191.2 319.5,175.3 336.7,175.3 C353.9,175.3 363.5,191.2 390.4,191.2 C417.2,191.2 426.8,175.3 444,175.3 C461.2,175.3 470.9,191.2 497.7,191.2 L525.6,191.2 C536.6,191.2 542.1,186.2 542.1,176.2 L542.1,157 C542.1,147 552.1,149 552.1,142 L552.1,0.4 Z"/></clipPath>
<g clip-path="url(#sc1)">
<rect x="0" y="0" width="567.6" height="213.6" fill="url(#soilg)"/>
<path d="M0,40 C80,35 160,46 260,41 S440,36 568,43 L568,66 C470,72 380,62 280,67 S100,62 0,69 Z" fill="#6a3e30" opacity="0.22"/><path d="M0,113 C100,108 200,119 300,113 S480,109 568,117 L568,148 C470,152 370,144 270,150 S90,146 0,152 Z" fill="#664038" opacity="0.2"/><path d="M0,70 C100,66 200,76 300,71 S480,67 568,74 L568,110 C470,114 370,106 270,111 S90,107 0,113 Z" fill="#3f2222" opacity="0.18"/>
<rect x="0" y="0" width="567.6" height="80" fill="url(#wetTop)"/>
<circle cx="485.6" cy="71" r="0.8" fill="#d79c8c" opacity="0.87"/><circle cx="296.6" cy="113.5" r="1.2" fill="#d79c8c" opacity="0.40"/><circle cx="105.4" cy="174.7" r="0.8" fill="#d79c8c" opacity="0.70"/><circle cx="513.8" cy="166.6" r="1.8" fill="#a97a72" opacity="0.80"/><circle cx="487.2" cy="180.7" r="1" fill="#b98276" opacity="0.72"/><circle cx="343.6" cy="188.3" r="2.5" fill="#c98d80" opacity="0.85"/><circle cx="512.9" cy="195.8" r="0.8" fill="#b98276" opacity="0.51"/><circle cx="538" cy="191.3" r="1.8" fill="#a97a72" opacity="0.87"/><circle cx="457.8" cy="103" r="1.2" fill="#c98d80" opacity="0.88"/><circle cx="319.8" cy="72.7" r="1.2" fill="#c98d80" opacity="0.64"/><circle cx="311.6" cy="167.6" r="1.8" fill="#c98d80" opacity="0.82"/><circle cx="309.3" cy="43.1" r="1" fill="#7d8fa0" opacity="0.34"/><circle cx="432.4" cy="101" r="1" fill="#c98d80" opacity="0.69"/><circle cx="388.5" cy="18.7" r="1.2" fill="#a0a9b5" opacity="0.32"/><circle cx="509.2" cy="83.5" r="0.8" fill="#c98d80" opacity="0.82"/><circle cx="507.4" cy="98.5" r="1" fill="#d79c8c" opacity="0.56"/><circle cx="63.5" cy="150.2" r="1.2" fill="#b98276" opacity="0.83"/><circle cx="417.7" cy="169.5" r="1" fill="#b98276" opacity="0.72"/><circle cx="512.4" cy="163.3" r="1.2" fill="#a97a72" opacity="0.82"/><circle cx="462.1" cy="184.7" r="2.5" fill="#a97a72" opacity="0.62"/><circle cx="423.5" cy="119.3" r="1" fill="#c98d80" opacity="0.76"/><circle cx="362.9" cy="88.7" r="1.5" fill="#d79c8c" opacity="0.75"/><circle cx="202.9" cy="6.9" r="1.5" fill="#a0a9b5" opacity="0.48"/><circle cx="448.9" cy="48.6" r="1.2" fill="#d79c8c" opacity="0.85"/><circle cx="52.1" cy="130.8" r="1" fill="#c98d80" opacity="0.85"/><circle cx="545.6" cy="10.2" r="0.8" fill="#a0a9b5" opacity="0.36"/><circle cx="462.8" cy="150.1" r="2.2" fill="#a97a72" opacity="0.57"/><circle cx="109.1" cy="4.4" r="1" fill="#a0a9b5" opacity="0.34"/><circle cx="111.1" cy="113.1" r="0.8" fill="#d79c8c" opacity="0.72"/><circle cx="129.3" cy="172.7" r="0.6" fill="#c98d80" opacity="0.73"/><circle cx="308.3" cy="190.6" r="2.2" fill="#a97a72" opacity="0.61"/><circle cx="46.6" cy="195" r="1.5" fill="#a97a72" opacity="0.67"/><circle cx="432.9" cy="106.1" r="0.8" fill="#b98276" opacity="0.84"/><circle cx="389.7" cy="23.5" r="2.5" fill="#a0a9b5" opacity="0.44"/><circle cx="29.8" cy="98.4" r="2.5" fill="#d79c8c" opacity="0.89"/><circle cx="313.4" cy="65" r="2.2" fill="#d79c8c" opacity="0.61"/><circle cx="390.9" cy="76.3" r="1.2" fill="#d79c8c" opacity="0.50"/><circle cx="128.2" cy="94.6" r="1.8" fill="#a97a72" opacity="0.54"/><circle cx="296.8" cy="171.4" r="0.8" fill="#c98d80" opacity="0.80"/><circle cx="150.2" cy="62" r="1.8" fill="#a97a72" opacity="0.53"/><circle cx="443.6" cy="137.9" r="1.5" fill="#d79c8c" opacity="0.68"/><circle cx="484" cy="172.8" r="0.8" fill="#c98d80" opacity="0.89"/><circle cx="426.5" cy="182.7" r="2.2" fill="#a97a72" opacity="0.38"/><circle cx="511.2" cy="56.8" r="1.8" fill="#d79c8c" opacity="0.41"/><circle cx="549.8" cy="189.1" r="1" fill="#c98d80" opacity="0.54"/><circle cx="424.8" cy="34.1" r="0.6" fill="#7d8fa0" opacity="0.38"/><circle cx="45.7" cy="12" r="2.2" fill="#8fa0b0" opacity="0.41"/><circle cx="196.2" cy="38.3" r="0.6" fill="#a0a9b5" opacity="0.56"/><circle cx="253.3" cy="44.6" r="1.5" fill="#7d8fa0" opacity="0.62"/><circle cx="417.1" cy="188.1" r="1" fill="#a97a72" opacity="0.53"/><circle cx="202.3" cy="64.3" r="1" fill="#d79c8c" opacity="0.80"/><circle cx="173.5" cy="135.7" r="2.2" fill="#a97a72" opacity="0.50"/><circle cx="332.7" cy="39.5" r="1" fill="#7d8fa0" opacity="0.35"/><circle cx="79.8" cy="170.2" r="1.8" fill="#a97a72" opacity="0.41"/><circle cx="232.7" cy="85" r="0.6" fill="#b98276" opacity="0.85"/><circle cx="194.5" cy="154.2" r="0.8" fill="#c98d80" opacity="0.75"/><circle cx="378.4" cy="75.2" r="0.8" fill="#d79c8c" opacity="0.35"/><circle cx="345.4" cy="191.4" r="1" fill="#a97a72" opacity="0.90"/><circle cx="119" cy="124.5" r="2.5" fill="#c98d80" opacity="0.57"/><circle cx="450.6" cy="191.2" r="1.8" fill="#b98276" opacity="0.75"/><circle cx="105.2" cy="107.8" r="1.2" fill="#c98d80" opacity="0.89"/><circle cx="453.8" cy="46.5" r="1" fill="#c98d80" opacity="0.42"/><circle cx="522" cy="88.8" r="2.2" fill="#a97a72" opacity="0.85"/><circle cx="464.4" cy="49.7" r="1.5" fill="#a97a72" opacity="0.90"/><circle cx="343.9" cy="57.5" r="0.6" fill="#a97a72" opacity="0.34"/><circle cx="352.6" cy="139.1" r="0.6" fill="#c98d80" opacity="0.60"/><circle cx="64.5" cy="166.7" r="2.5" fill="#c98d80" opacity="0.51"/><circle cx="229.6" cy="165.5" r="1" fill="#d79c8c" opacity="0.85"/><circle cx="383.2" cy="134.9" r="2.2" fill="#b98276" opacity="0.61"/><circle cx="104.3" cy="48.3" r="1" fill="#c98d80" opacity="0.75"/><circle cx="367.5" cy="100.6" r="1" fill="#b98276" opacity="0.52"/><circle cx="545.9" cy="43.4" r="1.8" fill="#8fa0b0" opacity="0.53"/><circle cx="238.4" cy="55.3" r="1" fill="#c98d80" opacity="0.34"/><circle cx="302" cy="88.6" r="2.5" fill="#b98276" opacity="0.71"/><circle cx="138.9" cy="80.1" r="1" fill="#d79c8c" opacity="0.37"/><circle cx="103.3" cy="187.9" r="1.2" fill="#c98d80" opacity="0.81"/><circle cx="158.5" cy="146.8" r="2.5" fill="#b98276" opacity="0.73"/><circle cx="358.7" cy="28.3" r="1.2" fill="#7d8fa0" opacity="0.30"/><circle cx="364.3" cy="44.9" r="2.2" fill="#7d8fa0" opacity="0.55"/><circle cx="170.1" cy="102.5" r="1.8" fill="#c98d80" opacity="0.70"/><circle cx="240.8" cy="8" r="1.8" fill="#7d8fa0" opacity="0.30"/><circle cx="164.7" cy="97" r="2.2" fill="#d79c8c" opacity="0.66"/><circle cx="509.6" cy="107.7" r="1.5" fill="#d79c8c" opacity="0.78"/><circle cx="300.5" cy="58.1" r="2.5" fill="#b98276" opacity="0.51"/><circle cx="124.5" cy="161.1" r="1.8" fill="#d79c8c" opacity="0.35"/><circle cx="531" cy="57.9" r="1.8" fill="#b98276" opacity="0.81"/><circle cx="505.2" cy="181.3" r="1.2" fill="#b98276" opacity="0.81"/><circle cx="550.4" cy="169" r="1.5" fill="#c98d80" opacity="0.77"/><circle cx="176.3" cy="141.7" r="1.8" fill="#c98d80" opacity="0.41"/><circle cx="538.1" cy="92.6" r="1" fill="#a97a72" opacity="0.39"/><circle cx="511.6" cy="174" r="1" fill="#b98276" opacity="0.79"/><circle cx="194.7" cy="169.2" r="1" fill="#d79c8c" opacity="0.32"/><circle cx="174.7" cy="114.9" r="1.2" fill="#d79c8c" opacity="0.88"/><circle cx="412.3" cy="37.5" r="1.5" fill="#8fa0b0" opacity="0.30"/><circle cx="254.8" cy="84" r="1" fill="#b98276" opacity="0.54"/><circle cx="187.5" cy="58.5" r="1" fill="#a97a72" opacity="0.89"/><circle cx="284.9" cy="185.2" r="0.6" fill="#a97a72" opacity="0.54"/><circle cx="27" cy="170.1" r="2.5" fill="#c98d80" opacity="0.38"/><circle cx="496.7" cy="169.3" r="2.5" fill="#d79c8c" opacity="0.41"/><circle cx="484.2" cy="193" r="0.6" fill="#a97a72" opacity="0.46"/><circle cx="532.4" cy="59.5" r="2.2" fill="#a97a72" opacity="0.42"/><circle cx="81.9" cy="133.2" r="2.5" fill="#d79c8c" opacity="0.31"/><circle cx="77.2" cy="32.4" r="1.5" fill="#7d8fa0" opacity="0.46"/><circle cx="415.6" cy="152.6" r="1" fill="#c98d80" opacity="0.83"/><circle cx="386.5" cy="119" r="1.2" fill="#b98276" opacity="0.49"/><circle cx="164.9" cy="46.8" r="1" fill="#a97a72" opacity="0.32"/><circle cx="539.4" cy="74.9" r="1.5" fill="#a97a72" opacity="0.69"/><circle cx="422.7" cy="17.6" r="1" fill="#8fa0b0" opacity="0.52"/><circle cx="513.6" cy="124.7" r="1.2" fill="#b98276" opacity="0.67"/><circle cx="208.8" cy="31.1" r="1" fill="#7d8fa0" opacity="0.37"/><circle cx="195.2" cy="118.2" r="1.8" fill="#d79c8c" opacity="0.68"/><circle cx="220.1" cy="183.6" r="1" fill="#c98d80" opacity="0.84"/><circle cx="359.8" cy="116.4" r="1.8" fill="#a97a72" opacity="0.31"/><circle cx="172" cy="152.2" r="0.8" fill="#b98276" opacity="0.60"/><circle cx="314.9" cy="11.1" r="1.8" fill="#7d8fa0" opacity="0.23"/><circle cx="498.6" cy="163.8" r="0.6" fill="#d79c8c" opacity="0.62"/><circle cx="195.7" cy="143.1" r="0.6" fill="#c98d80" opacity="0.45"/><circle cx="61.8" cy="106.8" r="1.2" fill="#b98276" opacity="0.45"/><circle cx="375.1" cy="129.8" r="1.2" fill="#d79c8c" opacity="0.53"/><circle cx="432.7" cy="126.9" r="1.8" fill="#b98276" opacity="0.58"/><circle cx="214.4" cy="25.9" r="1.5" fill="#a0a9b5" opacity="0.38"/><circle cx="463.8" cy="97.7" r="1.8" fill="#d79c8c" opacity="0.38"/><circle cx="18.1" cy="168.8" r="1" fill="#c98d80" opacity="0.52"/><circle cx="181.2" cy="124.5" r="1.5" fill="#a97a72" opacity="0.58"/><circle cx="428.5" cy="39.1" r="0.6" fill="#7d8fa0" opacity="0.40"/><circle cx="153.1" cy="80.3" r="1.8" fill="#b98276" opacity="0.82"/><circle cx="138.5" cy="53.9" r="0.8" fill="#a97a72" opacity="0.86"/><circle cx="199.7" cy="183.6" r="2.5" fill="#a97a72" opacity="0.81"/><circle cx="490.6" cy="9.3" r="1.5" fill="#7d8fa0" opacity="0.21"/><circle cx="500.5" cy="61.7" r="2.5" fill="#a97a72" opacity="0.34"/><circle cx="513.6" cy="22.6" r="1" fill="#a0a9b5" opacity="0.26"/><circle cx="339.4" cy="129.4" r="1.2" fill="#d79c8c" opacity="0.64"/><circle cx="409.2" cy="20.9" r="1.8" fill="#a0a9b5" opacity="0.33"/><circle cx="104.7" cy="70.8" r="0.8" fill="#a97a72" opacity="0.59"/><circle cx="85" cy="143.2" r="1.5" fill="#a97a72" opacity="0.40"/><circle cx="481.5" cy="43" r="0.6" fill="#a0a9b5" opacity="0.52"/><circle cx="27.6" cy="11.3" r="0.8" fill="#8fa0b0" opacity="0.38"/><circle cx="356.2" cy="24.9" r="0.6" fill="#8fa0b0" opacity="0.26"/><circle cx="413.6" cy="68.8" r="0.8" fill="#c98d80" opacity="0.49"/><circle cx="376.2" cy="86.2" r="2.2" fill="#d79c8c" opacity="0.53"/><circle cx="336.1" cy="6.3" r="0.6" fill="#a0a9b5" opacity="0.62"/><circle cx="358.2" cy="72.6" r="2.5" fill="#c98d80" opacity="0.84"/><circle cx="269" cy="14.3" r="1" fill="#7d8fa0" opacity="0.61"/><circle cx="235.8" cy="48.3" r="2.5" fill="#a97a72" opacity="0.48"/><circle cx="178.7" cy="115.6" r="0.6" fill="#a97a72" opacity="0.68"/><circle cx="293.5" cy="86" r="1" fill="#b98276" opacity="0.63"/><circle cx="198.6" cy="63.5" r="0.6" fill="#c98d80" opacity="0.80"/><circle cx="133.5" cy="152.6" r="1" fill="#a97a72" opacity="0.74"/><circle cx="387.8" cy="58.7" r="2.5" fill="#a97a72" opacity="0.30"/><circle cx="172.5" cy="125.4" r="1.2" fill="#b98276" opacity="0.68"/><circle cx="30.2" cy="68.3" r="1" fill="#a97a72" opacity="0.72"/><circle cx="405.5" cy="32.7" r="0.6" fill="#7d8fa0" opacity="0.27"/><circle cx="256" cy="183.3" r="1" fill="#d79c8c" opacity="0.44"/><circle cx="336.6" cy="123.5" r="0.8" fill="#b98276" opacity="0.40"/><circle cx="465.1" cy="143.2" r="1" fill="#b98276" opacity="0.60"/><circle cx="481.6" cy="103.8" r="1.2" fill="#a97a72" opacity="0.49"/><circle cx="123.6" cy="56.3" r="0.8" fill="#a97a72" opacity="0.49"/><circle cx="117.1" cy="85.1" r="1" fill="#d79c8c" opacity="0.79"/><circle cx="26.2" cy="26.7" r="0.6" fill="#7d8fa0" opacity="0.27"/><circle cx="500.5" cy="46.7" r="1.2" fill="#d79c8c" opacity="0.65"/><circle cx="271.7" cy="76" r="1.2" fill="#d79c8c" opacity="0.45"/><circle cx="135.9" cy="137.5" r="0.6" fill="#c98d80" opacity="0.81"/><circle cx="138.5" cy="124.9" r="2.5" fill="#a97a72" opacity="0.46"/><circle cx="265.6" cy="62.6" r="0.8" fill="#a97a72" opacity="0.78"/><circle cx="412.6" cy="16" r="2.5" fill="#7d8fa0" opacity="0.42"/><circle cx="189.7" cy="28.1" r="1.2" fill="#8fa0b0" opacity="0.28"/><circle cx="311.6" cy="82.2" r="1.5" fill="#a97a72" opacity="0.41"/><circle cx="409.3" cy="155.7" r="0.6" fill="#a97a72" opacity="0.69"/><circle cx="110.7" cy="119.2" r="2.5" fill="#c98d80" opacity="0.80"/><circle cx="156.5" cy="185.8" r="1.8" fill="#d79c8c" opacity="0.83"/><circle cx="274.4" cy="39.2" r="1" fill="#7d8fa0" opacity="0.49"/><circle cx="151.2" cy="74.6" r="0.8" fill="#a97a72" opacity="0.72"/><circle cx="459.4" cy="101.3" r="2.2" fill="#b98276" opacity="0.47"/><circle cx="431.8" cy="134.3" r="2.5" fill="#a97a72" opacity="0.46"/><circle cx="225.9" cy="169.9" r="2.5" fill="#b98276" opacity="0.71"/><circle cx="346.5" cy="194.8" r="2.2" fill="#d79c8c" opacity="0.85"/><circle cx="515.3" cy="60.8" r="1" fill="#a97a72" opacity="0.74"/><circle cx="117.6" cy="7.8" r="1" fill="#a0a9b5" opacity="0.27"/><circle cx="422.7" cy="130.8" r="0.8" fill="#c98d80" opacity="0.61"/><circle cx="509.6" cy="115.5" r="0.8" fill="#d79c8c" opacity="0.71"/><circle cx="258.1" cy="13.4" r="1.2" fill="#8fa0b0" opacity="0.50"/><circle cx="119.1" cy="142.9" r="1" fill="#b98276" opacity="0.85"/><circle cx="281.7" cy="70.4" r="1.2" fill="#c98d80" opacity="0.32"/><circle cx="366.5" cy="139.9" r="0.8" fill="#b98276" opacity="0.88"/><circle cx="479.4" cy="56.3" r="1.8" fill="#b98276" opacity="0.86"/><circle cx="364.9" cy="138.8" r="2.2" fill="#b98276" opacity="0.60"/><circle cx="403.7" cy="113.5" r="1.2" fill="#d79c8c" opacity="0.79"/><circle cx="529.9" cy="119.5" r="1" fill="#d79c8c" opacity="0.43"/><circle cx="393.2" cy="116" r="2.2" fill="#c98d80" opacity="0.61"/><circle cx="508.6" cy="44.1" r="0.6" fill="#a0a9b5" opacity="0.24"/><circle cx="222" cy="74.7" r="0.6" fill="#d79c8c" opacity="0.72"/><circle cx="30.6" cy="40.9" r="1.5" fill="#7d8fa0" opacity="0.58"/><circle cx="34.5" cy="15" r="0.8" fill="#8fa0b0" opacity="0.51"/><circle cx="124" cy="167" r="1" fill="#c98d80" opacity="0.34"/><circle cx="42.4" cy="139.6" r="1.8" fill="#d79c8c" opacity="0.66"/><circle cx="390" cy="55.2" r="0.8" fill="#a97a72" opacity="0.50"/><circle cx="270" cy="49.2" r="2.5" fill="#b98276" opacity="0.42"/><circle cx="526.5" cy="18.9" r="1" fill="#a0a9b5" opacity="0.46"/><circle cx="150.5" cy="169.1" r="0.6" fill="#c98d80" opacity="0.43"/><circle cx="215.6" cy="77.2" r="2.5" fill="#a97a72" opacity="0.63"/><circle cx="222.5" cy="165.5" r="1.5" fill="#c98d80" opacity="0.33"/><circle cx="90.4" cy="33.6" r="1" fill="#7d8fa0" opacity="0.61"/><circle cx="70" cy="34" r="0.6" fill="#a0a9b5" opacity="0.56"/><circle cx="448.6" cy="61.4" r="1.2" fill="#d79c8c" opacity="0.40"/><circle cx="20.7" cy="167.7" r="2.5" fill="#c98d80" opacity="0.34"/><circle cx="309.4" cy="54.6" r="0.8" fill="#b98276" opacity="0.83"/><circle cx="208.4" cy="169.4" r="2.2" fill="#c98d80" opacity="0.78"/><circle cx="497.6" cy="139.5" r="2.5" fill="#a97a72" opacity="0.75"/><circle cx="34" cy="145.4" r="0.8" fill="#d79c8c" opacity="0.76"/><circle cx="445.6" cy="9" r="1.8" fill="#7d8fa0" opacity="0.31"/><circle cx="205.3" cy="118.6" r="1.8" fill="#b98276" opacity="0.33"/><circle cx="243.4" cy="37.9" r="1.8" fill="#8fa0b0" opacity="0.29"/><circle cx="508.4" cy="81.7" r="1" fill="#b98276" opacity="0.68"/><circle cx="449.8" cy="48.4" r="0.6" fill="#a97a72" opacity="0.80"/><circle cx="405.7" cy="121.4" r="1.5" fill="#b98276" opacity="0.37"/><circle cx="430.8" cy="151" r="2.5" fill="#d79c8c" opacity="0.74"/><circle cx="281.4" cy="164.8" r="2.2" fill="#c98d80" opacity="0.70"/><circle cx="115.7" cy="137.8" r="0.6" fill="#c98d80" opacity="0.87"/><circle cx="513.4" cy="49" r="1" fill="#c98d80" opacity="0.82"/><circle cx="545.9" cy="66.1" r="1" fill="#b98276" opacity="0.59"/><circle cx="89.2" cy="11.7" r="1.2" fill="#7d8fa0" opacity="0.61"/><circle cx="125.1" cy="120.5" r="1.2" fill="#d79c8c" opacity="0.72"/><circle cx="368.6" cy="195.5" r="2.5" fill="#d79c8c" opacity="0.36"/><circle cx="432.7" cy="25.9" r="2.5" fill="#7d8fa0" opacity="0.58"/><circle cx="155.1" cy="75.2" r="1.2" fill="#a97a72" opacity="0.41"/><circle cx="52.1" cy="16.5" r="0.8" fill="#8fa0b0" opacity="0.47"/><circle cx="23.1" cy="179.8" r="1" fill="#b98276" opacity="0.82"/><circle cx="390.3" cy="13.3" r="1.5" fill="#7d8fa0" opacity="0.32"/><circle cx="546.8" cy="134.5" r="0.6" fill="#b98276" opacity="0.63"/><circle cx="420.2" cy="72.7" r="1.2" fill="#d79c8c" opacity="0.55"/><circle cx="67.5" cy="68.6" r="0.6" fill="#d79c8c" opacity="0.80"/><circle cx="341.2" cy="135.4" r="2.2" fill="#c98d80" opacity="0.33"/><circle cx="443.7" cy="142.8" r="1.2" fill="#a97a72" opacity="0.69"/><circle cx="57.8" cy="192.5" r="0.6" fill="#a97a72" opacity="0.54"/><circle cx="278.6" cy="12.3" r="0.6" fill="#8fa0b0" opacity="0.58"/><circle cx="169.3" cy="155.6" r="1" fill="#d79c8c" opacity="0.59"/><circle cx="486.2" cy="51.2" r="0.8" fill="#d79c8c" opacity="0.51"/><circle cx="21.3" cy="112.9" r="1.8" fill="#d79c8c" opacity="0.57"/><circle cx="315.4" cy="111.4" r="2.5" fill="#d79c8c" opacity="0.45"/><circle cx="231.5" cy="61" r="0.8" fill="#a97a72" opacity="0.67"/><circle cx="273" cy="118.4" r="2.2" fill="#d79c8c" opacity="0.38"/><circle cx="322.3" cy="39.5" r="1.2" fill="#a0a9b5" opacity="0.41"/><circle cx="269.7" cy="32.4" r="0.8" fill="#8fa0b0" opacity="0.40"/><circle cx="349.9" cy="108.7" r="1" fill="#d79c8c" opacity="0.56"/><circle cx="355.4" cy="62.8" r="1.8" fill="#c98d80" opacity="0.70"/><circle cx="87.2" cy="163.2" r="0.6" fill="#b98276" opacity="0.52"/><circle cx="270.4" cy="123.7" r="0.8" fill="#b98276" opacity="0.62"/><circle cx="411" cy="163" r="0.6" fill="#b98276" opacity="0.60"/><circle cx="76" cy="31.1" r="1.2" fill="#7d8fa0" opacity="0.30"/><circle cx="235.1" cy="100.6" r="2.5" fill="#a97a72" opacity="0.76"/><circle cx="86.8" cy="105.8" r="2.5" fill="#b98276" opacity="0.46"/><circle cx="486.5" cy="80.6" r="1" fill="#c98d80" opacity="0.45"/><circle cx="324.7" cy="41.2" r="1" fill="#a0a9b5" opacity="0.28"/><circle cx="265.7" cy="95" r="1.5" fill="#d79c8c" opacity="0.41"/><circle cx="36.1" cy="13.7" r="2.5" fill="#7d8fa0" opacity="0.29"/><circle cx="146.3" cy="57" r="2.2" fill="#a97a72" opacity="0.40"/><circle cx="273.1" cy="45.7" r="0.6" fill="#a97a72" opacity="0.58"/><circle cx="29.4" cy="152.6" r="1.8" fill="#b98276" opacity="0.69"/><circle cx="67.9" cy="98.2" r="2.5" fill="#b98276" opacity="0.76"/><circle cx="229.7" cy="117.9" r="1" fill="#a97a72" opacity="0.85"/><circle cx="36.6" cy="171.9" r="0.6" fill="#d79c8c" opacity="0.63"/><circle cx="282.7" cy="83" r="1.8" fill="#c98d80" opacity="0.33"/><circle cx="237.8" cy="38.9" r="1.8" fill="#a0a9b5" opacity="0.28"/><circle cx="107.8" cy="163.4" r="0.6" fill="#b98276" opacity="0.44"/><circle cx="199" cy="69.3" r="2.5" fill="#c98d80" opacity="0.55"/><circle cx="243.8" cy="95.5" r="1.2" fill="#c98d80" opacity="0.56"/><circle cx="392.2" cy="178.1" r="1.2" fill="#c98d80" opacity="0.36"/><circle cx="394" cy="31.8" r="1.5" fill="#8fa0b0" opacity="0.40"/><circle cx="169.3" cy="169.5" r="1.5" fill="#b98276" opacity="0.80"/><circle cx="377.1" cy="22.8" r="1" fill="#7d8fa0" opacity="0.24"/>
<g fill="none" stroke="url(#rootTop)" stroke-linecap="round" stroke-linejoin="round"><g transform="translate(8.6,0)"><path d="M54,1 C59,10 60,20 57,30 C53,42 51,56 51,74 C50,90 53,98 51,106 C50,112 47,116 46,120" stroke-width="2.4"/><path d="M52,100 C57,108 61,116 64,127 C66,137 67,144 66,151" stroke-width="2.2"/><path d="M33,28 C41,30 48,25 54,13" stroke-width="2.2"/><path d="M54,31 C43,35 31,44 24,66" stroke-width="2.2"/><path d="M42,63 C37,70 33,80 30,88" stroke-width="2"/><path d="M33,100 C28,116 25,136 25,156 C25,170 27,181 27,190" stroke-width="2.2"/><path d="M81,4 C80,12 81,20 84,29 C85,36 83,40 81,44 C75,50 67,54 67,66" stroke-width="2.2"/><path d="M101,1 C98,11 92,20 84,26 C73,31 60,32 46,44" stroke-width="2.4"/><path d="M96,17 C98,29 103,40 107,48 C110,55 111,60 112,65" stroke-width="2.2"/><path d="M117,1 C114,9 111,17 114,26 C117,33 119,37 119,43" stroke-width="2"/><path d="M136,3 C144,14 151,25 155,37 C157,45 152,58 147,64" stroke-width="2.2"/><path d="M118,25 C129,28 140,39 146,51 C147,57 147,62 145,67" stroke-width="2"/><path d="M149,45 C160,47 171,52 182,60" stroke-width="2"/><path d="M141,55 C143,62 148,70 153,77" stroke-width="2"/><path d="M169,2 C166,11 164,21 167,29 C169,35 170,39 170,43" stroke-width="2"/><path d="M84,63 C78,75 73,88 70,104 C68,116 69,124 70,131" stroke-width="2.2"/><path d="M78,90 C82,100 85,112 87,122" stroke-width="2"/><path d="M107,66 C103,76 96,84 85,82" stroke-width="2.2"/><path d="M108,74 C109,92 108,112 108,130 C108,140 109,146 109,151" stroke-width="2.2"/><path d="M124,56 C126,68 125,80 121,90 C119,96 118,101 118,105" stroke-width="2"/><path d="M128,90 C131,100 133,112 133,124" stroke-width="2"/><path d="M152,88 C147,98 143,110 142,124 C141,140 143,154 144,166" stroke-width="2.2"/><path d="M149,100 C153,110 158,122 161,134" stroke-width="2"/><path d="M167,88 C171,96 176,106 181,114 C184,120 186,126 187,130" stroke-width="2"/><path d="M184,96 C180,108 176,122 175,138 C174,156 176,176 177,190" stroke-width="2.2"/><path d="M72,134 C76,138 80,142 85,145" stroke-width="2"/><path d="M9,60 C5,68 2,76 0,84" stroke-width="2"/><path d="M14,4 C13,12 11,20 13,28 C15,34 16,38 16,42" stroke-width="2"/></g><g transform="translate(172.6,0)"><path d="M54,1 C59,10 60,20 57,30 C53,42 51,56 51,74 C50,90 53,98 51,106 C50,112 47,116 46,120" stroke-width="2.4"/><path d="M52,100 C57,108 61,116 64,127 C66,137 67,144 66,151" stroke-width="2.2"/><path d="M33,28 C41,30 48,25 54,13" stroke-width="2.2"/><path d="M54,31 C43,35 31,44 24,66" stroke-width="2.2"/><path d="M42,63 C37,70 33,80 30,88" stroke-width="2"/><path d="M33,100 C28,116 25,136 25,156 C25,170 27,181 27,190" stroke-width="2.2"/><path d="M81,4 C80,12 81,20 84,29 C85,36 83,40 81,44 C75,50 67,54 67,66" stroke-width="2.2"/><path d="M101,1 C98,11 92,20 84,26 C73,31 60,32 46,44" stroke-width="2.4"/><path d="M96,17 C98,29 103,40 107,48 C110,55 111,60 112,65" stroke-width="2.2"/><path d="M117,1 C114,9 111,17 114,26 C117,33 119,37 119,43" stroke-width="2"/><path d="M136,3 C144,14 151,25 155,37 C157,45 152,58 147,64" stroke-width="2.2"/><path d="M118,25 C129,28 140,39 146,51 C147,57 147,62 145,67" stroke-width="2"/><path d="M149,45 C160,47 171,52 182,60" stroke-width="2"/><path d="M141,55 C143,62 148,70 153,77" stroke-width="2"/><path d="M169,2 C166,11 164,21 167,29 C169,35 170,39 170,43" stroke-width="2"/><path d="M84,63 C78,75 73,88 70,104 C68,116 69,124 70,131" stroke-width="2.2"/><path d="M78,90 C82,100 85,112 87,122" stroke-width="2"/><path d="M107,66 C103,76 96,84 85,82" stroke-width="2.2"/><path d="M108,74 C109,92 108,112 108,130 C108,140 109,146 109,151" stroke-width="2.2"/><path d="M124,56 C126,68 125,80 121,90 C119,96 118,101 118,105" stroke-width="2"/><path d="M128,90 C131,100 133,112 133,124" stroke-width="2"/><path d="M152,88 C147,98 143,110 142,124 C141,140 143,154 144,166" stroke-width="2.2"/><path d="M149,100 C153,110 158,122 161,134" stroke-width="2"/><path d="M167,88 C171,96 176,106 181,114 C184,120 186,126 187,130" stroke-width="2"/><path d="M184,96 C180,108 176,122 175,138 C174,156 176,176 177,190" stroke-width="2.2"/><path d="M72,134 C76,138 80,142 85,145" stroke-width="2"/><path d="M9,60 C5,68 2,76 0,84" stroke-width="2"/><path d="M14,4 C13,12 11,20 13,28 C15,34 16,38 16,42" stroke-width="2"/></g><g transform="translate(558.9,0) scale(-1,1)"><path d="M54,1 C59,10 60,20 57,30 C53,42 51,56 51,74 C50,90 53,98 51,106 C50,112 47,116 46,120" stroke-width="2.4"/><path d="M52,100 C57,108 61,116 64,127 C66,137 67,144 66,151" stroke-width="2.2"/><path d="M33,28 C41,30 48,25 54,13" stroke-width="2.2"/><path d="M54,31 C43,35 31,44 24,66" stroke-width="2.2"/><path d="M42,63 C37,70 33,80 30,88" stroke-width="2"/><path d="M33,100 C28,116 25,136 25,156 C25,170 27,181 27,190" stroke-width="2.2"/><path d="M81,4 C80,12 81,20 84,29 C85,36 83,40 81,44 C75,50 67,54 67,66" stroke-width="2.2"/><path d="M101,1 C98,11 92,20 84,26 C73,31 60,32 46,44" stroke-width="2.4"/><path d="M96,17 C98,29 103,40 107,48 C110,55 111,60 112,65" stroke-width="2.2"/><path d="M117,1 C114,9 111,17 114,26 C117,33 119,37 119,43" stroke-width="2"/><path d="M136,3 C144,14 151,25 155,37 C157,45 152,58 147,64" stroke-width="2.2"/><path d="M118,25 C129,28 140,39 146,51 C147,57 147,62 145,67" stroke-width="2"/><path d="M149,45 C160,47 171,52 182,60" stroke-width="2"/><path d="M141,55 C143,62 148,70 153,77" stroke-width="2"/><path d="M169,2 C166,11 164,21 167,29 C169,35 170,39 170,43" stroke-width="2"/><path d="M84,63 C78,75 73,88 70,104 C68,116 69,124 70,131" stroke-width="2.2"/><path d="M78,90 C82,100 85,112 87,122" stroke-width="2"/><path d="M107,66 C103,76 96,84 85,82" stroke-width="2.2"/><path d="M108,74 C109,92 108,112 108,130 C108,140 109,146 109,151" stroke-width="2.2"/><path d="M124,56 C126,68 125,80 121,90 C119,96 118,101 118,105" stroke-width="2"/><path d="M128,90 C131,100 133,112 133,124" stroke-width="2"/><path d="M152,88 C147,98 143,110 142,124 C141,140 143,154 144,166" stroke-width="2.2"/><path d="M149,100 C153,110 158,122 161,134" stroke-width="2"/><path d="M167,88 C171,96 176,106 181,114 C184,120 186,126 187,130" stroke-width="2"/><path d="M184,96 C180,108 176,122 175,138 C174,156 176,176 177,190" stroke-width="2.2"/><path d="M72,134 C76,138 80,142 85,145" stroke-width="2"/><path d="M9,60 C5,68 2,76 0,84" stroke-width="2"/><path d="M14,4 C13,12 11,20 13,28 C15,34 16,38 16,42" stroke-width="2"/></g><g transform="translate(336.6,0)"><path d="M33,28 C41,30 48,25 54,13" stroke-width="2.2"/><path d="M42,63 C37,70 33,80 30,88" stroke-width="2"/><path d="M33,100 C28,116 25,136 25,156 C25,170 27,181 27,190" stroke-width="2.2"/><path d="M9,60 C5,68 2,76 0,84" stroke-width="2"/><path d="M14,4 C13,12 11,20 13,28 C15,34 16,38 16,42" stroke-width="2"/></g></g>
<rect x="41.7" y="16" width="8.6" height="11" fill="url(#tailA)"/><path d="M36.4,26.6 L58.2,26.6 L46.9,46.8 Z" fill="#143f5c" opacity="0.85"/><path d="M35,26 L57,26 L46,45.2 Z" fill="url(#headg)"/><rect x="159.7" y="16" width="8.6" height="11" fill="url(#tailA)"/><path d="M154.4,26.6 L176.2,26.6 L164.9,46.8 Z" fill="#143f5c" opacity="0.85"/><path d="M153,26 L175,26 L164,45.2 Z" fill="url(#headg)"/><rect x="271.7" y="16" width="8.6" height="11" fill="url(#tailA)"/><path d="M266.4,26.6 L288.2,26.6 L276.9,46.8 Z" fill="#143f5c" opacity="0.85"/><path d="M265,26 L287,26 L276,45.2 Z" fill="url(#headg)"/><rect x="389.3" y="16" width="8.6" height="11" fill="url(#tailA)"/><path d="M384,26.6 L405.8,26.6 L394.5,46.8 Z" fill="#143f5c" opacity="0.85"/><path d="M382.6,26 L404.6,26 L393.6,45.2 Z" fill="url(#headg)"/><rect x="518.7" y="16" width="8.6" height="11" fill="url(#tailA)"/><path d="M513.4,26.6 L535.2,26.6 L523.9,46.8 Z" fill="#143f5c" opacity="0.85"/><path d="M512,26 L534,26 L523,45.2 Z" fill="url(#headg)"/><rect x="105.2" y="46.3" width="8.6" height="13" fill="url(#tailA)"/><path d="M99.9,58.9 L121.7,58.9 L110.4,79.1 Z" fill="#143f5c" opacity="0.85"/><path d="M98.5,58.3 L120.5,58.3 L109.5,77.5 Z" fill="url(#headg)"/><rect x="215.4" y="46.3" width="8.6" height="13" fill="url(#tailA)"/><path d="M210.1,58.9 L231.9,58.9 L220.6,79.1 Z" fill="#143f5c" opacity="0.85"/><path d="M208.7,58.3 L230.7,58.3 L219.7,77.5 Z" fill="url(#headg)"/><rect x="325.3" y="46.3" width="8.6" height="13" fill="url(#tailA)"/><path d="M320,58.9 L341.8,58.9 L330.5,79.1 Z" fill="#143f5c" opacity="0.85"/><path d="M318.6,58.3 L340.6,58.3 L329.6,77.5 Z" fill="url(#headg)"/><rect x="454.5" y="46.3" width="8.6" height="13" fill="url(#tailA)"/><path d="M449.2,58.9 L471,58.9 L459.7,79.1 Z" fill="#143f5c" opacity="0.85"/><path d="M447.8,58.3 L469.8,58.3 L458.8,77.5 Z" fill="url(#headg)"/>
</g>
<path d="M15.5,0.4 L15.5,142 C15.5,149 25.5,147 25.5,157 L25.5,176.2 C25.5,186.2 31,191.2 42,191.2 L68.5,191.2 C95.3,191.2 104.9,175.3 122.1,175.3 C139.3,175.3 148.9,191.2 175.8,191.2 C202.6,191.2 212.2,175.3 229.4,175.3 C246.6,175.3 256.2,191.2 283.1,191.2 C309.9,191.2 319.5,175.3 336.7,175.3 C353.9,175.3 363.5,191.2 390.4,191.2 C417.2,191.2 426.8,175.3 444,175.3 C461.2,175.3 470.9,191.2 497.7,191.2 L525.6,191.2 C536.6,191.2 542.1,186.2 542.1,176.2 L542.1,157 C542.1,147 552.1,149 552.1,142 L552.1,0.4 Z" fill="none" stroke="#8a7a78" stroke-width="1" opacity="0.8"/>
</g>
<g transform="translate(897.4,758.8)"><path d="M6,0 Q0,0 0,6 L0,149 Q0,152 3,152 L12,152.3 C17,152.6 16.2,157 16.2,161 L16.2,182.8 C16.2,195.8 24,200.8 38,200.8 L68.5,200.8 C95.3,200.8 104.9,184.9 122.1,184.9 C139.3,184.9 148.9,200.8 175.8,200.8 C202.6,200.8 212.2,184.9 229.4,184.9 C246.6,184.9 256.2,200.8 283.1,200.8 C309.9,200.8 319.5,184.9 336.7,184.9 C353.9,184.9 363.5,200.8 390.4,200.8 C417.2,200.8 426.8,184.9 444,184.9 C461.2,184.9 470.9,200.8 497.7,200.8 L529.6,200.8 C543.6,200.8 551.4,195.8 551.4,182.8 L551.4,161 C551.4,157 550.6,152.6 555.6,152.3 L564.6,152 Q567.6,152 567.6,149 L567.6,6 Q567.6,0 561.6,0 Z" fill="#fff" stroke="#fff" stroke-width="2.4" stroke-linejoin="round"/><path d="M0,157.3 L567.6,157.3 L567.6,206.6 Q567.6,213.6 560.6,213.6 L7,213.6 Q0,213.6 0,206.6 Z" fill="#fff" stroke="#fff" stroke-width="2.4" stroke-linejoin="round"/></g>
<clipPath id="pc2"><rect x="857.4" y="588.8" width="647.6" height="170.8"/></clipPath><g clip-path="url(#pc2)"><use href="#stD" x="891.4" y="759.6"/><use href="#stD" x="1055.4" y="759.6"/><use href="#stD" transform="translate(1470.9,759.6) scale(-1,1)"/><use href="#stB" x="891.4" y="759.6"/><use href="#stB" x="1055.4" y="759.6"/><use href="#stB" transform="translate(1470.9,759.6) scale(-1,1)"/><use href="#stA" x="891.4" y="759.6"/><use href="#stA" x="1055.4" y="759.6"/><use href="#stA" transform="translate(1470.9,759.6) scale(-1,1)"/><use href="#stA" transform="translate(1296.2,759.6) scale(-1,1)"/><use href="#stC" x="891.4" y="759.6"/><use href="#stC" x="1055.4" y="759.6"/><use href="#stC" transform="translate(1470.9,759.6) scale(-1,1)"/></g>
<g transform="translate(897.4,758.8)">
<path d="M0,157.3 L567.6,157.3 L567.6,206.6 Q567.6,213.6 560.6,213.6 L7,213.6 Q0,213.6 0,206.6 Z" fill="#fff" stroke="#969696" stroke-width="1.7"/>
<rect x="10.9" y="157.3" width="545.8" height="45.2" fill="#ababab"/>
<path d="M10.9,157.3 L10.9,202.5 L556.7,202.5 L556.7,157.3" fill="none" stroke="#999" stroke-width="1.2"/>
<path d="M6,0 Q0,0 0,6 L0,149 Q0,152 3,152 L12,152.3 C17,152.6 16.2,157 16.2,161 L16.2,182.8 C16.2,195.8 24,200.8 38,200.8 L68.5,200.8 C95.3,200.8 104.9,184.9 122.1,184.9 C139.3,184.9 148.9,200.8 175.8,200.8 C202.6,200.8 212.2,184.9 229.4,184.9 C246.6,184.9 256.2,200.8 283.1,200.8 C309.9,200.8 319.5,184.9 336.7,184.9 C353.9,184.9 363.5,200.8 390.4,200.8 C417.2,200.8 426.8,184.9 444,184.9 C461.2,184.9 470.9,200.8 497.7,200.8 L529.6,200.8 C543.6,200.8 551.4,195.8 551.4,182.8 L551.4,161 C551.4,157 550.6,152.6 555.6,152.3 L564.6,152 Q567.6,152 567.6,149 L567.6,6 Q567.6,0 561.6,0 Z" fill="#fff" stroke="#969696" stroke-width="1.7" stroke-linejoin="round"/>
<rect x="51.3" y="192" width="8.4" height="9.6" fill="#cbcbcb"/>
<rect x="171.6" y="192" width="8.4" height="9.6" fill="#cbcbcb"/>
<rect x="278.9" y="192" width="8.4" height="9.6" fill="#cbcbcb"/>
<rect x="386.2" y="192" width="8.4" height="9.6" fill="#cbcbcb"/>
<rect x="507.3" y="192" width="8.4" height="9.6" fill="#cbcbcb"/>
<rect x="117.9" y="176.1" width="8.4" height="9.6" fill="#cbcbcb"/>
<rect x="225.2" y="176.1" width="8.4" height="9.6" fill="#cbcbcb"/>
<rect x="332.5" y="176.1" width="8.4" height="9.6" fill="#cbcbcb"/>
<rect x="439.8" y="176.1" width="8.4" height="9.6" fill="#cbcbcb"/>
<clipPath id="sc2"><path d="M15.5,0.4 L15.5,142 C15.5,149 25.5,147 25.5,157 L25.5,176.2 C25.5,186.2 31,191.2 42,191.2 L68.5,191.2 C95.3,191.2 104.9,175.3 122.1,175.3 C139.3,175.3 148.9,191.2 175.8,191.2 C202.6,191.2 212.2,175.3 229.4,175.3 C246.6,175.3 256.2,191.2 283.1,191.2 C309.9,191.2 319.5,175.3 336.7,175.3 C353.9,175.3 363.5,191.2 390.4,191.2 C417.2,191.2 426.8,175.3 444,175.3 C461.2,175.3 470.9,191.2 497.7,191.2 L525.6,191.2 C536.6,191.2 542.1,186.2 542.1,176.2 L542.1,157 C542.1,147 552.1,149 552.1,142 L552.1,0.4 Z"/></clipPath>
<g clip-path="url(#sc2)">
<rect x="0" y="0" width="567.6" height="213.6" fill="url(#soilg)"/>
<path d="M0,40 C80,35 160,46 260,41 S440,36 568,43 L568,66 C470,72 380,62 280,67 S100,62 0,69 Z" fill="#6a3e30" opacity="0.22"/><path d="M0,113 C100,108 200,119 300,113 S480,109 568,117 L568,148 C470,152 370,144 270,150 S90,146 0,152 Z" fill="#664038" opacity="0.2"/><path d="M0,70 C100,66 200,76 300,71 S480,67 568,74 L568,110 C470,114 370,106 270,111 S90,107 0,113 Z" fill="#3f2222" opacity="0.18"/>
<rect x="0" y="118" width="567.6" height="92" fill="url(#wetLow)"/>
<circle cx="485.6" cy="71" r="0.8" fill="#d79c8c" opacity="0.87"/><circle cx="296.6" cy="113.5" r="1.2" fill="#d79c8c" opacity="0.40"/><circle cx="105.4" cy="174.7" r="0.8" fill="#8fa0b0" opacity="0.49"/><circle cx="468.8" cy="122.2" r="2.2" fill="#b98276" opacity="0.60"/><circle cx="394.3" cy="39.2" r="1.2" fill="#d79c8c" opacity="0.88"/><circle cx="49.6" cy="66.8" r="0.8" fill="#b98276" opacity="0.51"/><circle cx="538" cy="191.3" r="1.8" fill="#a0a9b5" opacity="0.61"/><circle cx="292.1" cy="117.3" r="2.5" fill="#c98d80" opacity="0.72"/><circle cx="319.8" cy="72.7" r="1.2" fill="#c98d80" opacity="0.64"/><circle cx="311.6" cy="167.6" r="1.8" fill="#a0a9b5" opacity="0.57"/><circle cx="119.1" cy="15" r="1" fill="#a97a72" opacity="0.49"/><circle cx="257.8" cy="116.1" r="1" fill="#c98d80" opacity="0.69"/><circle cx="388.5" cy="18.7" r="1.2" fill="#b98276" opacity="0.46"/><circle cx="364.4" cy="74" r="1.2" fill="#c98d80" opacity="0.35"/><circle cx="507.4" cy="98.5" r="1" fill="#d79c8c" opacity="0.56"/><circle cx="63.5" cy="150.2" r="1.2" fill="#b98276" opacity="0.83"/><circle cx="417.7" cy="169.5" r="1" fill="#a0a9b5" opacity="0.50"/><circle cx="459.6" cy="57.3" r="0.8" fill="#a97a72" opacity="0.59"/><circle cx="423.5" cy="119.3" r="1" fill="#c98d80" opacity="0.76"/><circle cx="362.9" cy="88.7" r="1.5" fill="#d79c8c" opacity="0.75"/><circle cx="202.9" cy="6.9" r="1.5" fill="#d79c8c" opacity="0.69"/><circle cx="361.6" cy="24.5" r="1" fill="#c98d80" opacity="0.46"/><circle cx="448.3" cy="16.6" r="1" fill="#c98d80" opacity="0.85"/><circle cx="545.6" cy="10.2" r="0.8" fill="#c98d80" opacity="0.51"/><circle cx="381" cy="64.1" r="2.2" fill="#a97a72" opacity="0.57"/><circle cx="109.1" cy="4.4" r="1" fill="#a97a72" opacity="0.48"/><circle cx="405.5" cy="39.7" r="1" fill="#c98d80" opacity="0.34"/><circle cx="210.3" cy="76.6" r="0.6" fill="#c98d80" opacity="0.73"/><circle cx="308.3" cy="190.6" r="2.2" fill="#8fa0b0" opacity="0.42"/><circle cx="522.9" cy="174.9" r="1.5" fill="#a0a9b5" opacity="0.47"/><circle cx="317.7" cy="22.5" r="1" fill="#c98d80" opacity="0.72"/><circle cx="516.8" cy="108.1" r="0.8" fill="#a97a72" opacity="0.70"/><circle cx="279.5" cy="101.5" r="1.2" fill="#a97a72" opacity="0.47"/><circle cx="186.5" cy="99" r="1" fill="#d79c8c" opacity="0.70"/><circle cx="390.9" cy="76.3" r="1.2" fill="#d79c8c" opacity="0.50"/><circle cx="128.2" cy="94.6" r="1.8" fill="#a97a72" opacity="0.54"/><circle cx="296.8" cy="171.4" r="0.8" fill="#8fa0b0" opacity="0.56"/><circle cx="52.4" cy="158.9" r="1.8" fill="#a97a72" opacity="0.53"/><circle cx="443.6" cy="137.9" r="1.5" fill="#d79c8c" opacity="0.68"/><circle cx="484" cy="172.8" r="0.8" fill="#7d8fa0" opacity="0.63"/><circle cx="513.6" cy="95.4" r="2.2" fill="#d79c8c" opacity="0.86"/><circle cx="192" cy="40.3" r="2.5" fill="#b98276" opacity="0.45"/><circle cx="531.4" cy="48.2" r="0.6" fill="#b98276" opacity="0.76"/><circle cx="295.1" cy="81.3" r="0.6" fill="#c98d80" opacity="0.84"/><circle cx="488.4" cy="64.4" r="2.2" fill="#b98276" opacity="0.34"/><circle cx="196.2" cy="38.3" r="0.6" fill="#a97a72" opacity="0.81"/><circle cx="397.3" cy="59.6" r="1.5" fill="#d79c8c" opacity="0.89"/><circle cx="210.6" cy="174.2" r="2.2" fill="#7d8fa0" opacity="0.28"/><circle cx="202.3" cy="64.3" r="1" fill="#d79c8c" opacity="0.80"/><circle cx="173.5" cy="135.7" r="2.2" fill="#a97a72" opacity="0.50"/><circle cx="332.7" cy="39.5" r="1" fill="#a97a72" opacity="0.51"/><circle cx="184.3" cy="23.3" r="1.8" fill="#a97a72" opacity="0.41"/><circle cx="232.7" cy="85" r="0.6" fill="#b98276" opacity="0.85"/><circle cx="194.5" cy="154.2" r="0.8" fill="#c98d80" opacity="0.75"/><circle cx="378.4" cy="75.2" r="0.8" fill="#d79c8c" opacity="0.35"/><circle cx="345.4" cy="191.4" r="1" fill="#8fa0b0" opacity="0.63"/><circle cx="72" cy="35.7" r="2.2" fill="#c98d80" opacity="0.68"/><circle cx="450.6" cy="191.2" r="1.8" fill="#8fa0b0" opacity="0.53"/><circle cx="284.5" cy="125.6" r="0.8" fill="#b98276" opacity="0.79"/><circle cx="119.6" cy="42.1" r="0.6" fill="#a97a72" opacity="0.87"/><circle cx="527.7" cy="181.3" r="1.8" fill="#8fa0b0" opacity="0.56"/><circle cx="195" cy="122.2" r="1.8" fill="#d79c8c" opacity="0.67"/><circle cx="498.9" cy="17.6" r="1.8" fill="#c98d80" opacity="0.68"/><circle cx="281.2" cy="13.5" r="2.5" fill="#d79c8c" opacity="0.81"/><circle cx="21.2" cy="80.5" r="1.5" fill="#b98276" opacity="0.83"/><circle cx="291.2" cy="135.8" r="2.2" fill="#b98276" opacity="0.61"/><circle cx="104.3" cy="48.3" r="1" fill="#c98d80" opacity="0.75"/><circle cx="367.5" cy="100.6" r="1" fill="#b98276" opacity="0.52"/><circle cx="545.9" cy="43.4" r="1.8" fill="#a97a72" opacity="0.76"/><circle cx="469" cy="83.7" r="1.2" fill="#b98276" opacity="0.44"/><circle cx="48.7" cy="100.4" r="2.5" fill="#a97a72" opacity="0.43"/><circle cx="369.7" cy="136.7" r="2.5" fill="#b98276" opacity="0.67"/><circle cx="29.4" cy="163.4" r="0.8" fill="#a0a9b5" opacity="0.27"/><circle cx="442.8" cy="166.8" r="0.8" fill="#a0a9b5" opacity="0.32"/><circle cx="396" cy="177.5" r="1" fill="#a0a9b5" opacity="0.48"/><circle cx="393.4" cy="112.9" r="1.2" fill="#c98d80" opacity="0.43"/><circle cx="237.7" cy="46.5" r="2.2" fill="#d79c8c" opacity="0.78"/><circle cx="230.1" cy="118.9" r="0.8" fill="#c98d80" opacity="0.56"/><circle cx="240.8" cy="8" r="1.8" fill="#d79c8c" opacity="0.43"/><circle cx="235" cy="101.2" r="2.2" fill="#d79c8c" opacity="0.66"/><circle cx="509.6" cy="107.7" r="1.5" fill="#d79c8c" opacity="0.78"/><circle cx="300.5" cy="58.1" r="2.5" fill="#b98276" opacity="0.51"/><circle cx="124.5" cy="161.1" r="1.8" fill="#8fa0b0" opacity="0.25"/><circle cx="166.8" cy="78.4" r="1" fill="#a97a72" opacity="0.40"/><circle cx="174.6" cy="15" r="1" fill="#d79c8c" opacity="0.90"/><circle cx="433.7" cy="25.1" r="0.8" fill="#a97a72" opacity="0.73"/><circle cx="116.4" cy="16.6" r="2.2" fill="#b98276" opacity="0.65"/><circle cx="96" cy="137.4" r="2.2" fill="#b98276" opacity="0.83"/><circle cx="448.8" cy="48.2" r="1.8" fill="#c98d80" opacity="0.89"/><circle cx="54.4" cy="184.4" r="1.5" fill="#7d8fa0" opacity="0.33"/><circle cx="529.7" cy="154.1" r="1" fill="#d79c8c" opacity="0.45"/><circle cx="135.2" cy="186.2" r="1" fill="#a0a9b5" opacity="0.40"/><circle cx="96.7" cy="38" r="1" fill="#d79c8c" opacity="0.49"/><circle cx="292.3" cy="174.9" r="1" fill="#a0a9b5" opacity="0.62"/><circle cx="211.2" cy="57.5" r="0.6" fill="#a97a72" opacity="0.54"/><circle cx="27" cy="170.1" r="2.5" fill="#7d8fa0" opacity="0.27"/><circle cx="296.9" cy="40.5" r="1" fill="#c98d80" opacity="0.89"/><circle cx="156.3" cy="121.2" r="2.2" fill="#d79c8c" opacity="0.88"/><circle cx="64.7" cy="145.4" r="1" fill="#c98d80" opacity="0.56"/><circle cx="523.3" cy="193.3" r="2.5" fill="#8fa0b0" opacity="0.22"/><circle cx="20.4" cy="111.7" r="1.5" fill="#d79c8c" opacity="0.65"/><circle cx="279.1" cy="27.8" r="1.5" fill="#c98d80" opacity="0.41"/><circle cx="386.5" cy="119" r="1.2" fill="#b98276" opacity="0.49"/><circle cx="164.9" cy="46.8" r="1" fill="#a97a72" opacity="0.32"/><circle cx="539.4" cy="74.9" r="1.5" fill="#a97a72" opacity="0.69"/><circle cx="422.7" cy="17.6" r="1" fill="#c98d80" opacity="0.75"/><circle cx="529.4" cy="182.7" r="1" fill="#a0a9b5" opacity="0.48"/><circle cx="378.2" cy="183.5" r="1.5" fill="#8fa0b0" opacity="0.48"/><circle cx="223.7" cy="60.3" r="1.5" fill="#a97a72" opacity="0.49"/><circle cx="358.1" cy="68" r="2.2" fill="#b98276" opacity="0.86"/><circle cx="496" cy="10.4" r="2.5" fill="#a97a72" opacity="0.65"/><circle cx="27.8" cy="152" r="1.8" fill="#c98d80" opacity="0.47"/><circle cx="52" cy="44.3" r="1" fill="#c98d80" opacity="0.63"/><circle cx="289.3" cy="86.8" r="1" fill="#c98d80" opacity="0.42"/><circle cx="461" cy="177.9" r="2.5" fill="#7d8fa0" opacity="0.27"/><circle cx="474.8" cy="43.1" r="1.2" fill="#c98d80" opacity="0.83"/><circle cx="61.8" cy="106.8" r="1.2" fill="#b98276" opacity="0.45"/><circle cx="375.1" cy="129.8" r="1.2" fill="#d79c8c" opacity="0.53"/><circle cx="432.7" cy="126.9" r="1.8" fill="#b98276" opacity="0.58"/><circle cx="214.4" cy="25.9" r="1.5" fill="#c98d80" opacity="0.55"/><circle cx="347.3" cy="31.3" r="1.8" fill="#d79c8c" opacity="0.38"/><circle cx="18.1" cy="168.8" r="1" fill="#7d8fa0" opacity="0.36"/><circle cx="273.8" cy="157.9" r="2.2" fill="#b98276" opacity="0.89"/><circle cx="535.8" cy="92.5" r="2.5" fill="#d79c8c" opacity="0.56"/><circle cx="372.8" cy="177.6" r="1" fill="#8fa0b0" opacity="0.31"/><circle cx="511.4" cy="93" r="2.2" fill="#a97a72" opacity="0.86"/><circle cx="273.8" cy="15" r="1" fill="#d79c8c" opacity="0.86"/><circle cx="17.7" cy="120.7" r="1" fill="#a97a72" opacity="0.53"/><circle cx="177.3" cy="101.7" r="1.8" fill="#c98d80" opacity="0.56"/><circle cx="236.7" cy="44.8" r="1.8" fill="#b98276" opacity="0.79"/><circle cx="159" cy="118.4" r="0.8" fill="#d79c8c" opacity="0.87"/><circle cx="174.2" cy="48.9" r="1" fill="#b98276" opacity="0.34"/><circle cx="51.8" cy="42.4" r="1" fill="#b98276" opacity="0.63"/><circle cx="321.7" cy="36.1" r="2.2" fill="#b98276" opacity="0.82"/><circle cx="534.2" cy="140.9" r="0.6" fill="#c98d80" opacity="0.74"/><circle cx="356" cy="78.3" r="0.8" fill="#b98276" opacity="0.54"/><circle cx="132.6" cy="96" r="1.8" fill="#a97a72" opacity="0.32"/><circle cx="376.4" cy="77.2" r="1.5" fill="#c98d80" opacity="0.65"/><circle cx="188" cy="20" r="2.2" fill="#a97a72" opacity="0.56"/><circle cx="221.3" cy="71.9" r="0.6" fill="#c98d80" opacity="0.34"/><circle cx="540.4" cy="146.5" r="1.2" fill="#c98d80" opacity="0.63"/><circle cx="207.8" cy="107" r="1.8" fill="#c98d80" opacity="0.37"/><circle cx="320.1" cy="187.8" r="1" fill="#a0a9b5" opacity="0.36"/><circle cx="290.6" cy="159.5" r="1.2" fill="#a97a72" opacity="0.77"/><circle cx="504.9" cy="126.8" r="2.2" fill="#a97a72" opacity="0.61"/><circle cx="507.3" cy="187.8" r="1" fill="#7d8fa0" opacity="0.44"/><circle cx="122.2" cy="74.8" r="0.6" fill="#c98d80" opacity="0.80"/><circle cx="133.5" cy="152.6" r="1" fill="#a97a72" opacity="0.74"/><circle cx="387.8" cy="58.7" r="2.5" fill="#a97a72" opacity="0.30"/><circle cx="172.5" cy="125.4" r="1.2" fill="#b98276" opacity="0.68"/><circle cx="30.2" cy="68.3" r="1" fill="#a97a72" opacity="0.72"/><circle cx="405.5" cy="32.7" r="0.6" fill="#a97a72" opacity="0.39"/><circle cx="191.1" cy="183" r="1" fill="#a0a9b5" opacity="0.31"/><circle cx="172.7" cy="157.8" r="0.8" fill="#b98276" opacity="0.40"/><circle cx="465.1" cy="143.2" r="1" fill="#b98276" opacity="0.60"/><circle cx="481.6" cy="103.8" r="1.2" fill="#a97a72" opacity="0.49"/><circle cx="123.6" cy="56.3" r="0.8" fill="#a97a72" opacity="0.49"/><circle cx="117.1" cy="85.1" r="1" fill="#d79c8c" opacity="0.79"/><circle cx="26.2" cy="26.7" r="0.6" fill="#d79c8c" opacity="0.38"/><circle cx="233.5" cy="80" r="0.6" fill="#d79c8c" opacity="0.46"/><circle cx="271.7" cy="76" r="1.2" fill="#d79c8c" opacity="0.45"/><circle cx="135.9" cy="137.5" r="0.6" fill="#c98d80" opacity="0.81"/><circle cx="138.5" cy="124.9" r="2.5" fill="#a97a72" opacity="0.46"/><circle cx="265.6" cy="62.6" r="0.8" fill="#a97a72" opacity="0.78"/><circle cx="412.6" cy="16" r="2.5" fill="#b98276" opacity="0.60"/><circle cx="261" cy="62.9" r="1.8" fill="#a97a72" opacity="0.46"/><circle cx="522" cy="153.2" r="2.5" fill="#b98276" opacity="0.69"/><circle cx="210.8" cy="132.8" r="1.8" fill="#b98276" opacity="0.74"/><circle cx="433.2" cy="124.4" r="1" fill="#c98d80" opacity="0.54"/><circle cx="156.5" cy="185.8" r="1.8" fill="#7d8fa0" opacity="0.58"/><circle cx="413" cy="96" r="1.8" fill="#a97a72" opacity="0.58"/><circle cx="213.2" cy="116.4" r="2.2" fill="#a97a72" opacity="0.80"/><circle cx="172.5" cy="121.6" r="1.5" fill="#d79c8c" opacity="0.71"/><circle cx="326.1" cy="81.6" r="0.8" fill="#a97a72" opacity="0.60"/><circle cx="391.5" cy="122.6" r="1" fill="#d79c8c" opacity="0.57"/><circle cx="515.3" cy="60.8" r="1" fill="#a97a72" opacity="0.74"/><circle cx="117.6" cy="7.8" r="1" fill="#d79c8c" opacity="0.39"/><circle cx="289.9" cy="162.5" r="1.2" fill="#a0a9b5" opacity="0.47"/><circle cx="326.9" cy="113.4" r="0.8" fill="#d79c8c" opacity="0.71"/><circle cx="258.1" cy="13.4" r="1.2" fill="#d79c8c" opacity="0.71"/><circle cx="476.1" cy="22.6" r="1" fill="#b98276" opacity="0.73"/><circle cx="510.4" cy="37.6" r="1" fill="#d79c8c" opacity="0.51"/><circle cx="30.4" cy="124.1" r="0.6" fill="#c98d80" opacity="0.69"/><circle cx="485.8" cy="150.6" r="1" fill="#d79c8c" opacity="0.82"/><circle cx="42.4" cy="184.2" r="1" fill="#a0a9b5" opacity="0.48"/><circle cx="394.7" cy="39.3" r="1" fill="#d79c8c" opacity="0.67"/><circle cx="529.9" cy="119.5" r="1" fill="#d79c8c" opacity="0.43"/><circle cx="393.2" cy="116" r="2.2" fill="#c98d80" opacity="0.61"/><circle cx="508.6" cy="44.1" r="0.6" fill="#c98d80" opacity="0.35"/><circle cx="342.4" cy="93" r="0.6" fill="#d79c8c" opacity="0.34"/><circle cx="30.6" cy="40.9" r="1.5" fill="#d79c8c" opacity="0.83"/><circle cx="545" cy="54.8" r="0.8" fill="#c98d80" opacity="0.33"/><circle cx="403.2" cy="192" r="1" fill="#8fa0b0" opacity="0.29"/><circle cx="54.2" cy="112.4" r="0.6" fill="#d79c8c" opacity="0.43"/><circle cx="219.3" cy="74.1" r="1.5" fill="#d79c8c" opacity="0.72"/><circle cx="519.5" cy="25" r="2.5" fill="#c98d80" opacity="0.58"/><circle cx="142.5" cy="156.6" r="1" fill="#c98d80" opacity="0.53"/><circle cx="117.2" cy="43.4" r="1" fill="#c98d80" opacity="0.68"/><circle cx="451.7" cy="45.4" r="2.5" fill="#d79c8c" opacity="0.69"/><circle cx="218.1" cy="132.3" r="2.5" fill="#a97a72" opacity="0.64"/><circle cx="222.5" cy="165.5" r="1.5" fill="#8fa0b0" opacity="0.23"/><circle cx="439.4" cy="83.3" r="1" fill="#d79c8c" opacity="0.86"/><circle cx="239.3" cy="90.3" r="0.6" fill="#c98d80" opacity="0.80"/><circle cx="431.2" cy="159.3" r="1.2" fill="#d79c8c" opacity="0.85"/><circle cx="107.2" cy="60.3" r="1" fill="#c98d80" opacity="0.81"/><circle cx="443.6" cy="10.9" r="0.6" fill="#c98d80" opacity="0.46"/><circle cx="492.7" cy="50.7" r="2.2" fill="#c98d80" opacity="0.78"/><circle cx="497.6" cy="139.5" r="2.5" fill="#a97a72" opacity="0.75"/><circle cx="34" cy="145.4" r="0.8" fill="#d79c8c" opacity="0.76"/><circle cx="445.6" cy="9" r="1.8" fill="#a97a72" opacity="0.44"/><circle cx="260" cy="40.2" r="1.8" fill="#b98276" opacity="0.33"/><circle cx="243.4" cy="37.9" r="1.8" fill="#d79c8c" opacity="0.42"/><circle cx="106" cy="188.4" r="1" fill="#8fa0b0" opacity="0.48"/><circle cx="265" cy="163" r="2.2" fill="#8fa0b0" opacity="0.52"/><circle cx="242.7" cy="152.9" r="2.5" fill="#b98276" opacity="0.77"/><circle cx="185.3" cy="98.2" r="2.2" fill="#c98d80" opacity="0.70"/><circle cx="115.7" cy="137.8" r="0.6" fill="#c98d80" opacity="0.87"/><circle cx="513.4" cy="49" r="1" fill="#c98d80" opacity="0.82"/><circle cx="545.9" cy="66.1" r="1" fill="#b98276" opacity="0.59"/><circle cx="89.2" cy="11.7" r="1.2" fill="#b98276" opacity="0.87"/><circle cx="250" cy="24.7" r="1.2" fill="#d79c8c" opacity="0.72"/><circle cx="368.6" cy="195.5" r="2.5" fill="#7d8fa0" opacity="0.25"/><circle cx="77.7" cy="134.9" r="2.5" fill="#d79c8c" opacity="0.57"/><circle cx="52.9" cy="128.6" r="1" fill="#a97a72" opacity="0.35"/><circle cx="52.1" cy="16.5" r="0.8" fill="#a97a72" opacity="0.67"/><circle cx="50.5" cy="149.9" r="1.8" fill="#b98276" opacity="0.78"/><circle cx="483.3" cy="32.6" r="0.6" fill="#d79c8c" opacity="0.33"/><circle cx="162.4" cy="182.5" r="2.2" fill="#a0a9b5" opacity="0.63"/><circle cx="251.7" cy="149.1" r="1.5" fill="#a97a72" opacity="0.78"/><circle cx="153.4" cy="61.3" r="1.5" fill="#c98d80" opacity="0.76"/><circle cx="465.8" cy="58.6" r="1" fill="#c98d80" opacity="0.89"/><circle cx="453" cy="111" r="1.2" fill="#a97a72" opacity="0.69"/><circle cx="57.8" cy="192.5" r="0.6" fill="#7d8fa0" opacity="0.38"/><circle cx="346.6" cy="61.3" r="0.6" fill="#b98276" opacity="0.82"/><circle cx="58.2" cy="6.6" r="1.8" fill="#a97a72" opacity="0.64"/><circle cx="60.2" cy="172.8" r="1" fill="#7d8fa0" opacity="0.34"/><circle cx="219.7" cy="160.9" r="0.6" fill="#7d8fa0" opacity="0.51"/><circle cx="261" cy="164.3" r="1.2" fill="#a0a9b5" opacity="0.44"/><circle cx="433.9" cy="52.2" r="1.5" fill="#d79c8c" opacity="0.54"/><circle cx="535.1" cy="123.6" r="2.2" fill="#b98276" opacity="0.59"/><circle cx="366.2" cy="91.6" r="1.2" fill="#b98276" opacity="0.84"/><circle cx="115.7" cy="62.6" r="2.5" fill="#a97a72" opacity="0.73"/><circle cx="356.1" cy="4.6" r="0.8" fill="#b98276" opacity="0.57"/><circle cx="498.3" cy="123.8" r="2.5" fill="#a97a72" opacity="0.73"/><circle cx="133.6" cy="125.8" r="1.2" fill="#a97a72" opacity="0.72"/><circle cx="373" cy="11.2" r="1" fill="#c98d80" opacity="0.80"/><circle cx="211.3" cy="38.6" r="0.8" fill="#b98276" opacity="0.62"/><circle cx="411" cy="163" r="0.6" fill="#8fa0b0" opacity="0.42"/><circle cx="451" cy="137.1" r="1" fill="#d79c8c" opacity="0.57"/><circle cx="240.8" cy="24.6" r="2.5" fill="#a97a72" opacity="0.76"/><circle cx="86.8" cy="105.8" r="2.5" fill="#b98276" opacity="0.46"/><circle cx="486.5" cy="80.6" r="1" fill="#c98d80" opacity="0.45"/><circle cx="324.7" cy="41.2" r="1" fill="#c98d80" opacity="0.40"/><circle cx="398.4" cy="33.3" r="1.5" fill="#d79c8c" opacity="0.41"/><circle cx="36.1" cy="13.7" r="2.5" fill="#a97a72" opacity="0.42"/><circle cx="217.3" cy="109.3" r="2.2" fill="#a97a72" opacity="0.58"/><circle cx="273.1" cy="45.7" r="0.6" fill="#a97a72" opacity="0.58"/><circle cx="29.4" cy="152.6" r="1.8" fill="#b98276" opacity="0.69"/><circle cx="67.9" cy="98.2" r="2.5" fill="#b98276" opacity="0.76"/><circle cx="229.7" cy="117.9" r="1" fill="#a97a72" opacity="0.85"/><circle cx="36.6" cy="171.9" r="0.6" fill="#7d8fa0" opacity="0.44"/><circle cx="219.4" cy="171.7" r="1.8" fill="#7d8fa0" opacity="0.23"/><circle cx="219.4" cy="172.3" r="1.8" fill="#a0a9b5" opacity="0.28"/><circle cx="107.8" cy="163.4" r="0.6" fill="#7d8fa0" opacity="0.31"/><circle cx="313" cy="106.8" r="1.8" fill="#c98d80" opacity="0.50"/><circle cx="243.8" cy="95.5" r="1.2" fill="#c98d80" opacity="0.56"/><circle cx="392.2" cy="178.1" r="1.2" fill="#a0a9b5" opacity="0.25"/><circle cx="438.4" cy="29" r="1.5" fill="#c98d80" opacity="0.57"/><circle cx="48.3" cy="33.8" r="0.8" fill="#d79c8c" opacity="0.82"/><circle cx="462.4" cy="44.1" r="2.5" fill="#b98276" opacity="0.36"/>
<g fill="none" stroke="url(#rootLow)" stroke-linecap="round" stroke-linejoin="round"><g transform="translate(8.6,0)"><path d="M54,1 C59,10 60,20 57,30 C53,42 51,56 51,74 C50,90 53,98 51,106 C50,112 47,116 46,120" stroke-width="2.4"/><path d="M52,100 C57,108 61,116 64,127 C66,137 67,144 66,151" stroke-width="2.2"/><path d="M33,28 C41,30 48,25 54,13" stroke-width="2.2"/><path d="M54,31 C43,35 31,44 24,66" stroke-width="2.2"/><path d="M42,63 C37,70 33,80 30,88" stroke-width="2"/><path d="M33,100 C28,116 25,136 25,156 C25,170 27,181 27,190" stroke-width="2.2"/><path d="M81,4 C80,12 81,20 84,29 C85,36 83,40 81,44 C75,50 67,54 67,66" stroke-width="2.2"/><path d="M101,1 C98,11 92,20 84,26 C73,31 60,32 46,44" stroke-width="2.4"/><path d="M96,17 C98,29 103,40 107,48 C110,55 111,60 112,65" stroke-width="2.2"/><path d="M117,1 C114,9 111,17 114,26 C117,33 119,37 119,43" stroke-width="2"/><path d="M136,3 C144,14 151,25 155,37 C157,45 152,58 147,64" stroke-width="2.2"/><path d="M118,25 C129,28 140,39 146,51 C147,57 147,62 145,67" stroke-width="2"/><path d="M149,45 C160,47 171,52 182,60" stroke-width="2"/><path d="M141,55 C143,62 148,70 153,77" stroke-width="2"/><path d="M169,2 C166,11 164,21 167,29 C169,35 170,39 170,43" stroke-width="2"/><path d="M84,63 C78,75 73,88 70,104 C68,116 69,124 70,131" stroke-width="2.2"/><path d="M78,90 C82,100 85,112 87,122" stroke-width="2"/><path d="M107,66 C103,76 96,84 85,82" stroke-width="2.2"/><path d="M108,74 C109,92 108,112 108,130 C108,140 109,146 109,151" stroke-width="2.2"/><path d="M124,56 C126,68 125,80 121,90 C119,96 118,101 118,105" stroke-width="2"/><path d="M128,90 C131,100 133,112 133,124" stroke-width="2"/><path d="M152,88 C147,98 143,110 142,124 C141,140 143,154 144,166" stroke-width="2.2"/><path d="M149,100 C153,110 158,122 161,134" stroke-width="2"/><path d="M167,88 C171,96 176,106 181,114 C184,120 186,126 187,130" stroke-width="2"/><path d="M184,96 C180,108 176,122 175,138 C174,156 176,176 177,190" stroke-width="2.2"/><path d="M72,134 C76,138 80,142 85,145" stroke-width="2"/><path d="M9,60 C5,68 2,76 0,84" stroke-width="2"/><path d="M14,4 C13,12 11,20 13,28 C15,34 16,38 16,42" stroke-width="2"/></g><g transform="translate(172.6,0)"><path d="M54,1 C59,10 60,20 57,30 C53,42 51,56 51,74 C50,90 53,98 51,106 C50,112 47,116 46,120" stroke-width="2.4"/><path d="M52,100 C57,108 61,116 64,127 C66,137 67,144 66,151" stroke-width="2.2"/><path d="M33,28 C41,30 48,25 54,13" stroke-width="2.2"/><path d="M54,31 C43,35 31,44 24,66" stroke-width="2.2"/><path d="M42,63 C37,70 33,80 30,88" stroke-width="2"/><path d="M33,100 C28,116 25,136 25,156 C25,170 27,181 27,190" stroke-width="2.2"/><path d="M81,4 C80,12 81,20 84,29 C85,36 83,40 81,44 C75,50 67,54 67,66" stroke-width="2.2"/><path d="M101,1 C98,11 92,20 84,26 C73,31 60,32 46,44" stroke-width="2.4"/><path d="M96,17 C98,29 103,40 107,48 C110,55 111,60 112,65" stroke-width="2.2"/><path d="M117,1 C114,9 111,17 114,26 C117,33 119,37 119,43" stroke-width="2"/><path d="M136,3 C144,14 151,25 155,37 C157,45 152,58 147,64" stroke-width="2.2"/><path d="M118,25 C129,28 140,39 146,51 C147,57 147,62 145,67" stroke-width="2"/><path d="M149,45 C160,47 171,52 182,60" stroke-width="2"/><path d="M141,55 C143,62 148,70 153,77" stroke-width="2"/><path d="M169,2 C166,11 164,21 167,29 C169,35 170,39 170,43" stroke-width="2"/><path d="M84,63 C78,75 73,88 70,104 C68,116 69,124 70,131" stroke-width="2.2"/><path d="M78,90 C82,100 85,112 87,122" stroke-width="2"/><path d="M107,66 C103,76 96,84 85,82" stroke-width="2.2"/><path d="M108,74 C109,92 108,112 108,130 C108,140 109,146 109,151" stroke-width="2.2"/><path d="M124,56 C126,68 125,80 121,90 C119,96 118,101 118,105" stroke-width="2"/><path d="M128,90 C131,100 133,112 133,124" stroke-width="2"/><path d="M152,88 C147,98 143,110 142,124 C141,140 143,154 144,166" stroke-width="2.2"/><path d="M149,100 C153,110 158,122 161,134" stroke-width="2"/><path d="M167,88 C171,96 176,106 181,114 C184,120 186,126 187,130" stroke-width="2"/><path d="M184,96 C180,108 176,122 175,138 C174,156 176,176 177,190" stroke-width="2.2"/><path d="M72,134 C76,138 80,142 85,145" stroke-width="2"/><path d="M9,60 C5,68 2,76 0,84" stroke-width="2"/><path d="M14,4 C13,12 11,20 13,28 C15,34 16,38 16,42" stroke-width="2"/></g><g transform="translate(558.9,0) scale(-1,1)"><path d="M54,1 C59,10 60,20 57,30 C53,42 51,56 51,74 C50,90 53,98 51,106 C50,112 47,116 46,120" stroke-width="2.4"/><path d="M52,100 C57,108 61,116 64,127 C66,137 67,144 66,151" stroke-width="2.2"/><path d="M33,28 C41,30 48,25 54,13" stroke-width="2.2"/><path d="M54,31 C43,35 31,44 24,66" stroke-width="2.2"/><path d="M42,63 C37,70 33,80 30,88" stroke-width="2"/><path d="M33,100 C28,116 25,136 25,156 C25,170 27,181 27,190" stroke-width="2.2"/><path d="M81,4 C80,12 81,20 84,29 C85,36 83,40 81,44 C75,50 67,54 67,66" stroke-width="2.2"/><path d="M101,1 C98,11 92,20 84,26 C73,31 60,32 46,44" stroke-width="2.4"/><path d="M96,17 C98,29 103,40 107,48 C110,55 111,60 112,65" stroke-width="2.2"/><path d="M117,1 C114,9 111,17 114,26 C117,33 119,37 119,43" stroke-width="2"/><path d="M136,3 C144,14 151,25 155,37 C157,45 152,58 147,64" stroke-width="2.2"/><path d="M118,25 C129,28 140,39 146,51 C147,57 147,62 145,67" stroke-width="2"/><path d="M149,45 C160,47 171,52 182,60" stroke-width="2"/><path d="M141,55 C143,62 148,70 153,77" stroke-width="2"/><path d="M169,2 C166,11 164,21 167,29 C169,35 170,39 170,43" stroke-width="2"/><path d="M84,63 C78,75 73,88 70,104 C68,116 69,124 70,131" stroke-width="2.2"/><path d="M78,90 C82,100 85,112 87,122" stroke-width="2"/><path d="M107,66 C103,76 96,84 85,82" stroke-width="2.2"/><path d="M108,74 C109,92 108,112 108,130 C108,140 109,146 109,151" stroke-width="2.2"/><path d="M124,56 C126,68 125,80 121,90 C119,96 118,101 118,105" stroke-width="2"/><path d="M128,90 C131,100 133,112 133,124" stroke-width="2"/><path d="M152,88 C147,98 143,110 142,124 C141,140 143,154 144,166" stroke-width="2.2"/><path d="M149,100 C153,110 158,122 161,134" stroke-width="2"/><path d="M167,88 C171,96 176,106 181,114 C184,120 186,126 187,130" stroke-width="2"/><path d="M184,96 C180,108 176,122 175,138 C174,156 176,176 177,190" stroke-width="2.2"/><path d="M72,134 C76,138 80,142 85,145" stroke-width="2"/><path d="M9,60 C5,68 2,76 0,84" stroke-width="2"/><path d="M14,4 C13,12 11,20 13,28 C15,34 16,38 16,42" stroke-width="2"/></g><g transform="translate(336.6,0)"><path d="M33,28 C41,30 48,25 54,13" stroke-width="2.2"/><path d="M42,63 C37,70 33,80 30,88" stroke-width="2"/><path d="M33,100 C28,116 25,136 25,156 C25,170 27,181 27,190" stroke-width="2.2"/><path d="M9,60 C5,68 2,76 0,84" stroke-width="2"/><path d="M14,4 C13,12 11,20 13,28 C15,34 16,38 16,42" stroke-width="2"/></g></g>
<rect x="117.8" y="102.3" width="8.6" height="30" fill="url(#tailB)"/><path d="M111.7,131.9 L135.1,131.9 L123,152.9 Z" fill="#143f5c" opacity="0.85"/><path d="M110.3,131.3 L133.9,131.3 L122.1,151.3 Z" fill="url(#headg)"/><rect x="225.1" y="102.3" width="8.6" height="30" fill="url(#tailB)"/><path d="M219,131.9 L242.4,131.9 L230.3,152.9 Z" fill="#143f5c" opacity="0.85"/><path d="M217.6,131.3 L241.2,131.3 L229.4,151.3 Z" fill="url(#headg)"/><rect x="332.4" y="102.3" width="8.6" height="30" fill="url(#tailB)"/><path d="M326.3,131.9 L349.7,131.9 L337.6,152.9 Z" fill="#143f5c" opacity="0.85"/><path d="M324.9,131.3 L348.5,131.3 L336.7,151.3 Z" fill="url(#headg)"/><rect x="439.7" y="102.3" width="8.6" height="30" fill="url(#tailB)"/><path d="M433.6,131.9 L457,131.9 L444.9,152.9 Z" fill="#143f5c" opacity="0.85"/><path d="M432.2,131.3 L455.8,131.3 L444,151.3 Z" fill="url(#headg)"/><rect x="51.2" y="127.8" width="8.6" height="29" fill="url(#tailB)"/><path d="M45.1,156.4 L68.5,156.4 L56.4,177.4 Z" fill="#143f5c" opacity="0.85"/><path d="M43.7,155.8 L67.3,155.8 L55.5,175.8 Z" fill="url(#headg)"/><rect x="169.7" y="127.8" width="8.6" height="29" fill="url(#tailB)"/><path d="M163.6,156.4 L187,156.4 L174.9,177.4 Z" fill="#143f5c" opacity="0.85"/><path d="M162.2,155.8 L185.8,155.8 L174,175.8 Z" fill="url(#headg)"/><rect x="278.7" y="127.8" width="8.6" height="29" fill="url(#tailB)"/><path d="M272.6,156.4 L296,156.4 L283.9,177.4 Z" fill="#143f5c" opacity="0.85"/><path d="M271.2,155.8 L294.8,155.8 L283,175.8 Z" fill="url(#headg)"/><rect x="385.7" y="127.8" width="8.6" height="29" fill="url(#tailB)"/><path d="M379.6,156.4 L403,156.4 L390.9,177.4 Z" fill="#143f5c" opacity="0.85"/><path d="M378.2,155.8 L401.8,155.8 L390,175.8 Z" fill="url(#headg)"/><rect x="506.7" y="127.8" width="8.6" height="29" fill="url(#tailB)"/><path d="M500.6,156.4 L524,156.4 L511.9,177.4 Z" fill="#143f5c" opacity="0.85"/><path d="M499.2,155.8 L522.8,155.8 L511,175.8 Z" fill="url(#headg)"/>
</g>
<path d="M15.5,0.4 L15.5,142 C15.5,149 25.5,147 25.5,157 L25.5,176.2 C25.5,186.2 31,191.2 42,191.2 L68.5,191.2 C95.3,191.2 104.9,175.3 122.1,175.3 C139.3,175.3 148.9,191.2 175.8,191.2 C202.6,191.2 212.2,175.3 229.4,175.3 C246.6,175.3 256.2,191.2 283.1,191.2 C309.9,191.2 319.5,175.3 336.7,175.3 C353.9,175.3 363.5,191.2 390.4,191.2 C417.2,191.2 426.8,175.3 444,175.3 C461.2,175.3 470.9,191.2 497.7,191.2 L525.6,191.2 C536.6,191.2 542.1,186.2 542.1,176.2 L542.1,157 C542.1,147 552.1,149 552.1,142 L552.1,0.4 Z" fill="none" stroke="#8a7a78" stroke-width="1" opacity="0.8"/>
<rect x="11.5" y="192.5" width="544.6" height="9.5" fill="#74c8ec" opacity="0.9"/>
<rect x="11.5" y="192.5" width="544.6" height="1.5" fill="#c9ecfb" opacity="0.9"/>
<rect x="52.5" y="186" width="6" height="12" fill="#7fcdf0" opacity="0.55"/>
<rect x="172.8" y="186" width="6" height="12" fill="#7fcdf0" opacity="0.55"/>
<rect x="280.1" y="186" width="6" height="12" fill="#7fcdf0" opacity="0.55"/>
<rect x="387.4" y="186" width="6" height="12" fill="#7fcdf0" opacity="0.55"/>
<rect x="508.5" y="186" width="6" height="12" fill="#7fcdf0" opacity="0.55"/>
<rect x="119.1" y="181" width="6" height="12" fill="#7fcdf0" opacity="0.55"/>
<rect x="226.4" y="181" width="6" height="12" fill="#7fcdf0" opacity="0.55"/>
<rect x="333.7" y="181" width="6" height="12" fill="#7fcdf0" opacity="0.55"/>
<rect x="441" y="181" width="6" height="12" fill="#7fcdf0" opacity="0.55"/>
</g>
<g transform="translate(131.4,1236.2)"><path d="M6,0 Q0,0 0,6 L0,149 Q0,152 3,152 L12,152.3 C17,152.6 16.2,157 16.2,161 L16.2,182.8 C16.2,195.8 24,200.8 38,200.8 L68.5,200.8 C95.3,200.8 104.9,184.9 122.1,184.9 C139.3,184.9 148.9,200.8 175.8,200.8 C202.6,200.8 212.2,184.9 229.4,184.9 C246.6,184.9 256.2,200.8 283.1,200.8 C309.9,200.8 319.5,184.9 336.7,184.9 C353.9,184.9 363.5,200.8 390.4,200.8 C417.2,200.8 426.8,184.9 444,184.9 C461.2,184.9 470.9,200.8 497.7,200.8 L529.6,200.8 C543.6,200.8 551.4,195.8 551.4,182.8 L551.4,161 C551.4,157 550.6,152.6 555.6,152.3 L564.6,152 Q567.6,152 567.6,149 L567.6,6 Q567.6,0 561.6,0 Z" fill="#fff" stroke="#fff" stroke-width="2.4" stroke-linejoin="round"/><path d="M0,157.3 L567.6,157.3 L567.6,206.6 Q567.6,213.6 560.6,213.6 L7,213.6 Q0,213.6 0,206.6 Z" fill="#fff" stroke="#fff" stroke-width="2.4" stroke-linejoin="round"/></g>
<clipPath id="pc3"><rect x="91.4" y="1066.2" width="647.6" height="170.8"/></clipPath><g clip-path="url(#pc3)"><use href="#stD" x="125.4" y="1237"/><use href="#stD" x="289.4" y="1237"/><use href="#stD" transform="translate(704.9,1237) scale(-1,1)"/><use href="#stB" x="125.4" y="1237"/><use href="#stB" x="289.4" y="1237"/><use href="#stB" transform="translate(704.9,1237) scale(-1,1)"/><use href="#stA" x="125.4" y="1237"/><use href="#stA" x="289.4" y="1237"/><use href="#stA" transform="translate(704.9,1237) scale(-1,1)"/><use href="#stA" transform="translate(530.2,1237) scale(-1,1)"/><use href="#stC" x="125.4" y="1237"/><use href="#stC" x="289.4" y="1237"/><use href="#stC" transform="translate(704.9,1237) scale(-1,1)"/></g>
<g transform="translate(131.4,1236.2)">
<path d="M0,157.3 L567.6,157.3 L567.6,206.6 Q567.6,213.6 560.6,213.6 L7,213.6 Q0,213.6 0,206.6 Z" fill="#fff" stroke="#969696" stroke-width="1.7"/>
<rect x="10.9" y="157.3" width="545.8" height="45.2" fill="#ababab"/>
<path d="M10.9,157.3 L10.9,202.5 L556.7,202.5 L556.7,157.3" fill="none" stroke="#999" stroke-width="1.2"/>
<path d="M6,0 Q0,0 0,6 L0,149 Q0,152 3,152 L12,152.3 C17,152.6 16.2,157 16.2,161 L16.2,182.8 C16.2,195.8 24,200.8 38,200.8 L68.5,200.8 C95.3,200.8 104.9,184.9 122.1,184.9 C139.3,184.9 148.9,200.8 175.8,200.8 C202.6,200.8 212.2,184.9 229.4,184.9 C246.6,184.9 256.2,200.8 283.1,200.8 C309.9,200.8 319.5,184.9 336.7,184.9 C353.9,184.9 363.5,200.8 390.4,200.8 C417.2,200.8 426.8,184.9 444,184.9 C461.2,184.9 470.9,200.8 497.7,200.8 L529.6,200.8 C543.6,200.8 551.4,195.8 551.4,182.8 L551.4,161 C551.4,157 550.6,152.6 555.6,152.3 L564.6,152 Q567.6,152 567.6,149 L567.6,6 Q567.6,0 561.6,0 Z" fill="#fff" stroke="#969696" stroke-width="1.7" stroke-linejoin="round"/>
<rect x="51.3" y="192" width="8.4" height="9.6" fill="#cbcbcb"/>
<rect x="171.6" y="192" width="8.4" height="9.6" fill="#cbcbcb"/>
<rect x="278.9" y="192" width="8.4" height="9.6" fill="#cbcbcb"/>
<rect x="386.2" y="192" width="8.4" height="9.6" fill="#cbcbcb"/>
<rect x="507.3" y="192" width="8.4" height="9.6" fill="#cbcbcb"/>
<rect x="117.9" y="176.1" width="8.4" height="9.6" fill="#cbcbcb"/>
<rect x="225.2" y="176.1" width="8.4" height="9.6" fill="#cbcbcb"/>
<rect x="332.5" y="176.1" width="8.4" height="9.6" fill="#cbcbcb"/>
<rect x="439.8" y="176.1" width="8.4" height="9.6" fill="#cbcbcb"/>
<clipPath id="sc3"><path d="M15.5,0.4 L15.5,142 C15.5,149 25.5,147 25.5,157 L25.5,176.2 C25.5,186.2 31,191.2 42,191.2 L68.5,191.2 C95.3,191.2 104.9,175.3 122.1,175.3 C139.3,175.3 148.9,191.2 175.8,191.2 C202.6,191.2 212.2,175.3 229.4,175.3 C246.6,175.3 256.2,191.2 283.1,191.2 C309.9,191.2 319.5,175.3 336.7,175.3 C353.9,175.3 363.5,191.2 390.4,191.2 C417.2,191.2 426.8,175.3 444,175.3 C461.2,175.3 470.9,191.2 497.7,191.2 L525.6,191.2 C536.6,191.2 542.1,186.2 542.1,176.2 L542.1,157 C542.1,147 552.1,149 552.1,142 L552.1,0.4 Z"/></clipPath>
<g clip-path="url(#sc3)">
<rect x="0" y="0" width="567.6" height="213.6" fill="url(#soilg)"/>
<path d="M0,40 C80,35 160,46 260,41 S440,36 568,43 L568,66 C470,72 380,62 280,67 S100,62 0,69 Z" fill="#6a3e30" opacity="0.22"/><path d="M0,113 C100,108 200,119 300,113 S480,109 568,117 L568,148 C470,152 370,144 270,150 S90,146 0,152 Z" fill="#664038" opacity="0.2"/><path d="M0,70 C100,66 200,76 300,71 S480,67 568,74 L568,110 C470,114 370,106 270,111 S90,107 0,113 Z" fill="#3f2222" opacity="0.18"/>
<rect x="0" y="118" width="567.6" height="92" fill="url(#wetLow)"/>
<circle cx="485.6" cy="71" r="0.8" fill="#d79c8c" opacity="0.87"/><circle cx="296.6" cy="113.5" r="1.2" fill="#d79c8c" opacity="0.40"/><circle cx="105.4" cy="174.7" r="0.8" fill="#8fa0b0" opacity="0.49"/><circle cx="468.8" cy="122.2" r="2.2" fill="#b98276" opacity="0.60"/><circle cx="394.3" cy="39.2" r="1.2" fill="#d79c8c" opacity="0.88"/><circle cx="49.6" cy="66.8" r="0.8" fill="#b98276" opacity="0.51"/><circle cx="538" cy="191.3" r="1.8" fill="#a0a9b5" opacity="0.61"/><circle cx="292.1" cy="117.3" r="2.5" fill="#c98d80" opacity="0.72"/><circle cx="319.8" cy="72.7" r="1.2" fill="#c98d80" opacity="0.64"/><circle cx="311.6" cy="167.6" r="1.8" fill="#a0a9b5" opacity="0.57"/><circle cx="119.1" cy="15" r="1" fill="#a97a72" opacity="0.49"/><circle cx="257.8" cy="116.1" r="1" fill="#c98d80" opacity="0.69"/><circle cx="388.5" cy="18.7" r="1.2" fill="#b98276" opacity="0.46"/><circle cx="364.4" cy="74" r="1.2" fill="#c98d80" opacity="0.35"/><circle cx="507.4" cy="98.5" r="1" fill="#d79c8c" opacity="0.56"/><circle cx="63.5" cy="150.2" r="1.2" fill="#b98276" opacity="0.83"/><circle cx="417.7" cy="169.5" r="1" fill="#a0a9b5" opacity="0.50"/><circle cx="459.6" cy="57.3" r="0.8" fill="#a97a72" opacity="0.59"/><circle cx="423.5" cy="119.3" r="1" fill="#c98d80" opacity="0.76"/><circle cx="362.9" cy="88.7" r="1.5" fill="#d79c8c" opacity="0.75"/><circle cx="202.9" cy="6.9" r="1.5" fill="#d79c8c" opacity="0.69"/><circle cx="361.6" cy="24.5" r="1" fill="#c98d80" opacity="0.46"/><circle cx="448.3" cy="16.6" r="1" fill="#c98d80" opacity="0.85"/><circle cx="545.6" cy="10.2" r="0.8" fill="#c98d80" opacity="0.51"/><circle cx="381" cy="64.1" r="2.2" fill="#a97a72" opacity="0.57"/><circle cx="109.1" cy="4.4" r="1" fill="#a97a72" opacity="0.48"/><circle cx="405.5" cy="39.7" r="1" fill="#c98d80" opacity="0.34"/><circle cx="210.3" cy="76.6" r="0.6" fill="#c98d80" opacity="0.73"/><circle cx="308.3" cy="190.6" r="2.2" fill="#8fa0b0" opacity="0.42"/><circle cx="522.9" cy="174.9" r="1.5" fill="#a0a9b5" opacity="0.47"/><circle cx="317.7" cy="22.5" r="1" fill="#c98d80" opacity="0.72"/><circle cx="516.8" cy="108.1" r="0.8" fill="#a97a72" opacity="0.70"/><circle cx="279.5" cy="101.5" r="1.2" fill="#a97a72" opacity="0.47"/><circle cx="186.5" cy="99" r="1" fill="#d79c8c" opacity="0.70"/><circle cx="390.9" cy="76.3" r="1.2" fill="#d79c8c" opacity="0.50"/><circle cx="128.2" cy="94.6" r="1.8" fill="#a97a72" opacity="0.54"/><circle cx="296.8" cy="171.4" r="0.8" fill="#8fa0b0" opacity="0.56"/><circle cx="52.4" cy="158.9" r="1.8" fill="#a97a72" opacity="0.53"/><circle cx="443.6" cy="137.9" r="1.5" fill="#d79c8c" opacity="0.68"/><circle cx="484" cy="172.8" r="0.8" fill="#7d8fa0" opacity="0.63"/><circle cx="513.6" cy="95.4" r="2.2" fill="#d79c8c" opacity="0.86"/><circle cx="192" cy="40.3" r="2.5" fill="#b98276" opacity="0.45"/><circle cx="531.4" cy="48.2" r="0.6" fill="#b98276" opacity="0.76"/><circle cx="295.1" cy="81.3" r="0.6" fill="#c98d80" opacity="0.84"/><circle cx="488.4" cy="64.4" r="2.2" fill="#b98276" opacity="0.34"/><circle cx="196.2" cy="38.3" r="0.6" fill="#a97a72" opacity="0.81"/><circle cx="397.3" cy="59.6" r="1.5" fill="#d79c8c" opacity="0.89"/><circle cx="210.6" cy="174.2" r="2.2" fill="#7d8fa0" opacity="0.28"/><circle cx="202.3" cy="64.3" r="1" fill="#d79c8c" opacity="0.80"/><circle cx="173.5" cy="135.7" r="2.2" fill="#a97a72" opacity="0.50"/><circle cx="332.7" cy="39.5" r="1" fill="#a97a72" opacity="0.51"/><circle cx="184.3" cy="23.3" r="1.8" fill="#a97a72" opacity="0.41"/><circle cx="232.7" cy="85" r="0.6" fill="#b98276" opacity="0.85"/><circle cx="194.5" cy="154.2" r="0.8" fill="#c98d80" opacity="0.75"/><circle cx="378.4" cy="75.2" r="0.8" fill="#d79c8c" opacity="0.35"/><circle cx="345.4" cy="191.4" r="1" fill="#8fa0b0" opacity="0.63"/><circle cx="72" cy="35.7" r="2.2" fill="#c98d80" opacity="0.68"/><circle cx="450.6" cy="191.2" r="1.8" fill="#8fa0b0" opacity="0.53"/><circle cx="284.5" cy="125.6" r="0.8" fill="#b98276" opacity="0.79"/><circle cx="119.6" cy="42.1" r="0.6" fill="#a97a72" opacity="0.87"/><circle cx="527.7" cy="181.3" r="1.8" fill="#8fa0b0" opacity="0.56"/><circle cx="195" cy="122.2" r="1.8" fill="#d79c8c" opacity="0.67"/><circle cx="498.9" cy="17.6" r="1.8" fill="#c98d80" opacity="0.68"/><circle cx="281.2" cy="13.5" r="2.5" fill="#d79c8c" opacity="0.81"/><circle cx="21.2" cy="80.5" r="1.5" fill="#b98276" opacity="0.83"/><circle cx="291.2" cy="135.8" r="2.2" fill="#b98276" opacity="0.61"/><circle cx="104.3" cy="48.3" r="1" fill="#c98d80" opacity="0.75"/><circle cx="367.5" cy="100.6" r="1" fill="#b98276" opacity="0.52"/><circle cx="545.9" cy="43.4" r="1.8" fill="#a97a72" opacity="0.76"/><circle cx="469" cy="83.7" r="1.2" fill="#b98276" opacity="0.44"/><circle cx="48.7" cy="100.4" r="2.5" fill="#a97a72" opacity="0.43"/><circle cx="369.7" cy="136.7" r="2.5" fill="#b98276" opacity="0.67"/><circle cx="29.4" cy="163.4" r="0.8" fill="#a0a9b5" opacity="0.27"/><circle cx="442.8" cy="166.8" r="0.8" fill="#a0a9b5" opacity="0.32"/><circle cx="396" cy="177.5" r="1" fill="#a0a9b5" opacity="0.48"/><circle cx="393.4" cy="112.9" r="1.2" fill="#c98d80" opacity="0.43"/><circle cx="237.7" cy="46.5" r="2.2" fill="#d79c8c" opacity="0.78"/><circle cx="230.1" cy="118.9" r="0.8" fill="#c98d80" opacity="0.56"/><circle cx="240.8" cy="8" r="1.8" fill="#d79c8c" opacity="0.43"/><circle cx="235" cy="101.2" r="2.2" fill="#d79c8c" opacity="0.66"/><circle cx="509.6" cy="107.7" r="1.5" fill="#d79c8c" opacity="0.78"/><circle cx="300.5" cy="58.1" r="2.5" fill="#b98276" opacity="0.51"/><circle cx="124.5" cy="161.1" r="1.8" fill="#8fa0b0" opacity="0.25"/><circle cx="166.8" cy="78.4" r="1" fill="#a97a72" opacity="0.40"/><circle cx="174.6" cy="15" r="1" fill="#d79c8c" opacity="0.90"/><circle cx="433.7" cy="25.1" r="0.8" fill="#a97a72" opacity="0.73"/><circle cx="116.4" cy="16.6" r="2.2" fill="#b98276" opacity="0.65"/><circle cx="96" cy="137.4" r="2.2" fill="#b98276" opacity="0.83"/><circle cx="448.8" cy="48.2" r="1.8" fill="#c98d80" opacity="0.89"/><circle cx="54.4" cy="184.4" r="1.5" fill="#7d8fa0" opacity="0.33"/><circle cx="529.7" cy="154.1" r="1" fill="#d79c8c" opacity="0.45"/><circle cx="135.2" cy="186.2" r="1" fill="#a0a9b5" opacity="0.40"/><circle cx="96.7" cy="38" r="1" fill="#d79c8c" opacity="0.49"/><circle cx="292.3" cy="174.9" r="1" fill="#a0a9b5" opacity="0.62"/><circle cx="211.2" cy="57.5" r="0.6" fill="#a97a72" opacity="0.54"/><circle cx="27" cy="170.1" r="2.5" fill="#7d8fa0" opacity="0.27"/><circle cx="296.9" cy="40.5" r="1" fill="#c98d80" opacity="0.89"/><circle cx="156.3" cy="121.2" r="2.2" fill="#d79c8c" opacity="0.88"/><circle cx="64.7" cy="145.4" r="1" fill="#c98d80" opacity="0.56"/><circle cx="523.3" cy="193.3" r="2.5" fill="#8fa0b0" opacity="0.22"/><circle cx="20.4" cy="111.7" r="1.5" fill="#d79c8c" opacity="0.65"/><circle cx="279.1" cy="27.8" r="1.5" fill="#c98d80" opacity="0.41"/><circle cx="386.5" cy="119" r="1.2" fill="#b98276" opacity="0.49"/><circle cx="164.9" cy="46.8" r="1" fill="#a97a72" opacity="0.32"/><circle cx="539.4" cy="74.9" r="1.5" fill="#a97a72" opacity="0.69"/><circle cx="422.7" cy="17.6" r="1" fill="#c98d80" opacity="0.75"/><circle cx="529.4" cy="182.7" r="1" fill="#a0a9b5" opacity="0.48"/><circle cx="378.2" cy="183.5" r="1.5" fill="#8fa0b0" opacity="0.48"/><circle cx="223.7" cy="60.3" r="1.5" fill="#a97a72" opacity="0.49"/><circle cx="358.1" cy="68" r="2.2" fill="#b98276" opacity="0.86"/><circle cx="496" cy="10.4" r="2.5" fill="#a97a72" opacity="0.65"/><circle cx="27.8" cy="152" r="1.8" fill="#c98d80" opacity="0.47"/><circle cx="52" cy="44.3" r="1" fill="#c98d80" opacity="0.63"/><circle cx="289.3" cy="86.8" r="1" fill="#c98d80" opacity="0.42"/><circle cx="461" cy="177.9" r="2.5" fill="#7d8fa0" opacity="0.27"/><circle cx="474.8" cy="43.1" r="1.2" fill="#c98d80" opacity="0.83"/><circle cx="61.8" cy="106.8" r="1.2" fill="#b98276" opacity="0.45"/><circle cx="375.1" cy="129.8" r="1.2" fill="#d79c8c" opacity="0.53"/><circle cx="432.7" cy="126.9" r="1.8" fill="#b98276" opacity="0.58"/><circle cx="214.4" cy="25.9" r="1.5" fill="#c98d80" opacity="0.55"/><circle cx="347.3" cy="31.3" r="1.8" fill="#d79c8c" opacity="0.38"/><circle cx="18.1" cy="168.8" r="1" fill="#7d8fa0" opacity="0.36"/><circle cx="273.8" cy="157.9" r="2.2" fill="#b98276" opacity="0.89"/><circle cx="535.8" cy="92.5" r="2.5" fill="#d79c8c" opacity="0.56"/><circle cx="372.8" cy="177.6" r="1" fill="#8fa0b0" opacity="0.31"/><circle cx="511.4" cy="93" r="2.2" fill="#a97a72" opacity="0.86"/><circle cx="273.8" cy="15" r="1" fill="#d79c8c" opacity="0.86"/><circle cx="17.7" cy="120.7" r="1" fill="#a97a72" opacity="0.53"/><circle cx="177.3" cy="101.7" r="1.8" fill="#c98d80" opacity="0.56"/><circle cx="236.7" cy="44.8" r="1.8" fill="#b98276" opacity="0.79"/><circle cx="159" cy="118.4" r="0.8" fill="#d79c8c" opacity="0.87"/><circle cx="174.2" cy="48.9" r="1" fill="#b98276" opacity="0.34"/><circle cx="51.8" cy="42.4" r="1" fill="#b98276" opacity="0.63"/><circle cx="321.7" cy="36.1" r="2.2" fill="#b98276" opacity="0.82"/><circle cx="534.2" cy="140.9" r="0.6" fill="#c98d80" opacity="0.74"/><circle cx="356" cy="78.3" r="0.8" fill="#b98276" opacity="0.54"/><circle cx="132.6" cy="96" r="1.8" fill="#a97a72" opacity="0.32"/><circle cx="376.4" cy="77.2" r="1.5" fill="#c98d80" opacity="0.65"/><circle cx="188" cy="20" r="2.2" fill="#a97a72" opacity="0.56"/><circle cx="221.3" cy="71.9" r="0.6" fill="#c98d80" opacity="0.34"/><circle cx="540.4" cy="146.5" r="1.2" fill="#c98d80" opacity="0.63"/><circle cx="207.8" cy="107" r="1.8" fill="#c98d80" opacity="0.37"/><circle cx="320.1" cy="187.8" r="1" fill="#a0a9b5" opacity="0.36"/><circle cx="290.6" cy="159.5" r="1.2" fill="#a97a72" opacity="0.77"/><circle cx="504.9" cy="126.8" r="2.2" fill="#a97a72" opacity="0.61"/><circle cx="507.3" cy="187.8" r="1" fill="#7d8fa0" opacity="0.44"/><circle cx="122.2" cy="74.8" r="0.6" fill="#c98d80" opacity="0.80"/><circle cx="133.5" cy="152.6" r="1" fill="#a97a72" opacity="0.74"/><circle cx="387.8" cy="58.7" r="2.5" fill="#a97a72" opacity="0.30"/><circle cx="172.5" cy="125.4" r="1.2" fill="#b98276" opacity="0.68"/><circle cx="30.2" cy="68.3" r="1" fill="#a97a72" opacity="0.72"/><circle cx="405.5" cy="32.7" r="0.6" fill="#a97a72" opacity="0.39"/><circle cx="191.1" cy="183" r="1" fill="#a0a9b5" opacity="0.31"/><circle cx="172.7" cy="157.8" r="0.8" fill="#b98276" opacity="0.40"/><circle cx="465.1" cy="143.2" r="1" fill="#b98276" opacity="0.60"/><circle cx="481.6" cy="103.8" r="1.2" fill="#a97a72" opacity="0.49"/><circle cx="123.6" cy="56.3" r="0.8" fill="#a97a72" opacity="0.49"/><circle cx="117.1" cy="85.1" r="1" fill="#d79c8c" opacity="0.79"/><circle cx="26.2" cy="26.7" r="0.6" fill="#d79c8c" opacity="0.38"/><circle cx="233.5" cy="80" r="0.6" fill="#d79c8c" opacity="0.46"/><circle cx="271.7" cy="76" r="1.2" fill="#d79c8c" opacity="0.45"/><circle cx="135.9" cy="137.5" r="0.6" fill="#c98d80" opacity="0.81"/><circle cx="138.5" cy="124.9" r="2.5" fill="#a97a72" opacity="0.46"/><circle cx="265.6" cy="62.6" r="0.8" fill="#a97a72" opacity="0.78"/><circle cx="412.6" cy="16" r="2.5" fill="#b98276" opacity="0.60"/><circle cx="261" cy="62.9" r="1.8" fill="#a97a72" opacity="0.46"/><circle cx="522" cy="153.2" r="2.5" fill="#b98276" opacity="0.69"/><circle cx="210.8" cy="132.8" r="1.8" fill="#b98276" opacity="0.74"/><circle cx="433.2" cy="124.4" r="1" fill="#c98d80" opacity="0.54"/><circle cx="156.5" cy="185.8" r="1.8" fill="#7d8fa0" opacity="0.58"/><circle cx="413" cy="96" r="1.8" fill="#a97a72" opacity="0.58"/><circle cx="213.2" cy="116.4" r="2.2" fill="#a97a72" opacity="0.80"/><circle cx="172.5" cy="121.6" r="1.5" fill="#d79c8c" opacity="0.71"/><circle cx="326.1" cy="81.6" r="0.8" fill="#a97a72" opacity="0.60"/><circle cx="391.5" cy="122.6" r="1" fill="#d79c8c" opacity="0.57"/><circle cx="515.3" cy="60.8" r="1" fill="#a97a72" opacity="0.74"/><circle cx="117.6" cy="7.8" r="1" fill="#d79c8c" opacity="0.39"/><circle cx="289.9" cy="162.5" r="1.2" fill="#a0a9b5" opacity="0.47"/><circle cx="326.9" cy="113.4" r="0.8" fill="#d79c8c" opacity="0.71"/><circle cx="258.1" cy="13.4" r="1.2" fill="#d79c8c" opacity="0.71"/><circle cx="476.1" cy="22.6" r="1" fill="#b98276" opacity="0.73"/><circle cx="510.4" cy="37.6" r="1" fill="#d79c8c" opacity="0.51"/><circle cx="30.4" cy="124.1" r="0.6" fill="#c98d80" opacity="0.69"/><circle cx="485.8" cy="150.6" r="1" fill="#d79c8c" opacity="0.82"/><circle cx="42.4" cy="184.2" r="1" fill="#a0a9b5" opacity="0.48"/><circle cx="394.7" cy="39.3" r="1" fill="#d79c8c" opacity="0.67"/><circle cx="529.9" cy="119.5" r="1" fill="#d79c8c" opacity="0.43"/><circle cx="393.2" cy="116" r="2.2" fill="#c98d80" opacity="0.61"/><circle cx="508.6" cy="44.1" r="0.6" fill="#c98d80" opacity="0.35"/><circle cx="342.4" cy="93" r="0.6" fill="#d79c8c" opacity="0.34"/><circle cx="30.6" cy="40.9" r="1.5" fill="#d79c8c" opacity="0.83"/><circle cx="545" cy="54.8" r="0.8" fill="#c98d80" opacity="0.33"/><circle cx="403.2" cy="192" r="1" fill="#8fa0b0" opacity="0.29"/><circle cx="54.2" cy="112.4" r="0.6" fill="#d79c8c" opacity="0.43"/><circle cx="219.3" cy="74.1" r="1.5" fill="#d79c8c" opacity="0.72"/><circle cx="519.5" cy="25" r="2.5" fill="#c98d80" opacity="0.58"/><circle cx="142.5" cy="156.6" r="1" fill="#c98d80" opacity="0.53"/><circle cx="117.2" cy="43.4" r="1" fill="#c98d80" opacity="0.68"/><circle cx="451.7" cy="45.4" r="2.5" fill="#d79c8c" opacity="0.69"/><circle cx="218.1" cy="132.3" r="2.5" fill="#a97a72" opacity="0.64"/><circle cx="222.5" cy="165.5" r="1.5" fill="#8fa0b0" opacity="0.23"/><circle cx="439.4" cy="83.3" r="1" fill="#d79c8c" opacity="0.86"/><circle cx="239.3" cy="90.3" r="0.6" fill="#c98d80" opacity="0.80"/><circle cx="431.2" cy="159.3" r="1.2" fill="#d79c8c" opacity="0.85"/><circle cx="107.2" cy="60.3" r="1" fill="#c98d80" opacity="0.81"/><circle cx="443.6" cy="10.9" r="0.6" fill="#c98d80" opacity="0.46"/><circle cx="492.7" cy="50.7" r="2.2" fill="#c98d80" opacity="0.78"/><circle cx="497.6" cy="139.5" r="2.5" fill="#a97a72" opacity="0.75"/><circle cx="34" cy="145.4" r="0.8" fill="#d79c8c" opacity="0.76"/><circle cx="445.6" cy="9" r="1.8" fill="#a97a72" opacity="0.44"/><circle cx="260" cy="40.2" r="1.8" fill="#b98276" opacity="0.33"/><circle cx="243.4" cy="37.9" r="1.8" fill="#d79c8c" opacity="0.42"/><circle cx="106" cy="188.4" r="1" fill="#8fa0b0" opacity="0.48"/><circle cx="265" cy="163" r="2.2" fill="#8fa0b0" opacity="0.52"/><circle cx="242.7" cy="152.9" r="2.5" fill="#b98276" opacity="0.77"/><circle cx="185.3" cy="98.2" r="2.2" fill="#c98d80" opacity="0.70"/><circle cx="115.7" cy="137.8" r="0.6" fill="#c98d80" opacity="0.87"/><circle cx="513.4" cy="49" r="1" fill="#c98d80" opacity="0.82"/><circle cx="545.9" cy="66.1" r="1" fill="#b98276" opacity="0.59"/><circle cx="89.2" cy="11.7" r="1.2" fill="#b98276" opacity="0.87"/><circle cx="250" cy="24.7" r="1.2" fill="#d79c8c" opacity="0.72"/><circle cx="368.6" cy="195.5" r="2.5" fill="#7d8fa0" opacity="0.25"/><circle cx="77.7" cy="134.9" r="2.5" fill="#d79c8c" opacity="0.57"/><circle cx="52.9" cy="128.6" r="1" fill="#a97a72" opacity="0.35"/><circle cx="52.1" cy="16.5" r="0.8" fill="#a97a72" opacity="0.67"/><circle cx="50.5" cy="149.9" r="1.8" fill="#b98276" opacity="0.78"/><circle cx="483.3" cy="32.6" r="0.6" fill="#d79c8c" opacity="0.33"/><circle cx="162.4" cy="182.5" r="2.2" fill="#a0a9b5" opacity="0.63"/><circle cx="251.7" cy="149.1" r="1.5" fill="#a97a72" opacity="0.78"/><circle cx="153.4" cy="61.3" r="1.5" fill="#c98d80" opacity="0.76"/><circle cx="465.8" cy="58.6" r="1" fill="#c98d80" opacity="0.89"/><circle cx="453" cy="111" r="1.2" fill="#a97a72" opacity="0.69"/><circle cx="57.8" cy="192.5" r="0.6" fill="#7d8fa0" opacity="0.38"/><circle cx="346.6" cy="61.3" r="0.6" fill="#b98276" opacity="0.82"/><circle cx="58.2" cy="6.6" r="1.8" fill="#a97a72" opacity="0.64"/><circle cx="60.2" cy="172.8" r="1" fill="#7d8fa0" opacity="0.34"/><circle cx="219.7" cy="160.9" r="0.6" fill="#7d8fa0" opacity="0.51"/><circle cx="261" cy="164.3" r="1.2" fill="#a0a9b5" opacity="0.44"/><circle cx="433.9" cy="52.2" r="1.5" fill="#d79c8c" opacity="0.54"/><circle cx="535.1" cy="123.6" r="2.2" fill="#b98276" opacity="0.59"/><circle cx="366.2" cy="91.6" r="1.2" fill="#b98276" opacity="0.84"/><circle cx="115.7" cy="62.6" r="2.5" fill="#a97a72" opacity="0.73"/><circle cx="356.1" cy="4.6" r="0.8" fill="#b98276" opacity="0.57"/><circle cx="498.3" cy="123.8" r="2.5" fill="#a97a72" opacity="0.73"/><circle cx="133.6" cy="125.8" r="1.2" fill="#a97a72" opacity="0.72"/><circle cx="373" cy="11.2" r="1" fill="#c98d80" opacity="0.80"/><circle cx="211.3" cy="38.6" r="0.8" fill="#b98276" opacity="0.62"/><circle cx="411" cy="163" r="0.6" fill="#8fa0b0" opacity="0.42"/><circle cx="451" cy="137.1" r="1" fill="#d79c8c" opacity="0.57"/><circle cx="240.8" cy="24.6" r="2.5" fill="#a97a72" opacity="0.76"/><circle cx="86.8" cy="105.8" r="2.5" fill="#b98276" opacity="0.46"/><circle cx="486.5" cy="80.6" r="1" fill="#c98d80" opacity="0.45"/><circle cx="324.7" cy="41.2" r="1" fill="#c98d80" opacity="0.40"/><circle cx="398.4" cy="33.3" r="1.5" fill="#d79c8c" opacity="0.41"/><circle cx="36.1" cy="13.7" r="2.5" fill="#a97a72" opacity="0.42"/><circle cx="217.3" cy="109.3" r="2.2" fill="#a97a72" opacity="0.58"/><circle cx="273.1" cy="45.7" r="0.6" fill="#a97a72" opacity="0.58"/><circle cx="29.4" cy="152.6" r="1.8" fill="#b98276" opacity="0.69"/><circle cx="67.9" cy="98.2" r="2.5" fill="#b98276" opacity="0.76"/><circle cx="229.7" cy="117.9" r="1" fill="#a97a72" opacity="0.85"/><circle cx="36.6" cy="171.9" r="0.6" fill="#7d8fa0" opacity="0.44"/><circle cx="219.4" cy="171.7" r="1.8" fill="#7d8fa0" opacity="0.23"/><circle cx="219.4" cy="172.3" r="1.8" fill="#a0a9b5" opacity="0.28"/><circle cx="107.8" cy="163.4" r="0.6" fill="#7d8fa0" opacity="0.31"/><circle cx="313" cy="106.8" r="1.8" fill="#c98d80" opacity="0.50"/><circle cx="243.8" cy="95.5" r="1.2" fill="#c98d80" opacity="0.56"/><circle cx="392.2" cy="178.1" r="1.2" fill="#a0a9b5" opacity="0.25"/><circle cx="438.4" cy="29" r="1.5" fill="#c98d80" opacity="0.57"/><circle cx="48.3" cy="33.8" r="0.8" fill="#d79c8c" opacity="0.82"/><circle cx="462.4" cy="44.1" r="2.5" fill="#b98276" opacity="0.36"/>
<g fill="none" stroke="url(#rootLow)" stroke-linecap="round" stroke-linejoin="round"><g transform="translate(8.6,0)"><path d="M54,1 C59,10 60,20 57,30 C53,42 51,56 51,74 C50,90 53,98 51,106 C50,112 47,116 46,120" stroke-width="2.4"/><path d="M52,100 C57,108 61,116 64,127 C66,137 67,144 66,151" stroke-width="2.2"/><path d="M33,28 C41,30 48,25 54,13" stroke-width="2.2"/><path d="M54,31 C43,35 31,44 24,66" stroke-width="2.2"/><path d="M42,63 C37,70 33,80 30,88" stroke-width="2"/><path d="M33,100 C28,116 25,136 25,156 C25,170 27,181 27,190" stroke-width="2.2"/><path d="M81,4 C80,12 81,20 84,29 C85,36 83,40 81,44 C75,50 67,54 67,66" stroke-width="2.2"/><path d="M101,1 C98,11 92,20 84,26 C73,31 60,32 46,44" stroke-width="2.4"/><path d="M96,17 C98,29 103,40 107,48 C110,55 111,60 112,65" stroke-width="2.2"/><path d="M117,1 C114,9 111,17 114,26 C117,33 119,37 119,43" stroke-width="2"/><path d="M136,3 C144,14 151,25 155,37 C157,45 152,58 147,64" stroke-width="2.2"/><path d="M118,25 C129,28 140,39 146,51 C147,57 147,62 145,67" stroke-width="2"/><path d="M149,45 C160,47 171,52 182,60" stroke-width="2"/><path d="M141,55 C143,62 148,70 153,77" stroke-width="2"/><path d="M169,2 C166,11 164,21 167,29 C169,35 170,39 170,43" stroke-width="2"/><path d="M84,63 C78,75 73,88 70,104 C68,116 69,124 70,131" stroke-width="2.2"/><path d="M78,90 C82,100 85,112 87,122" stroke-width="2"/><path d="M107,66 C103,76 96,84 85,82" stroke-width="2.2"/><path d="M108,74 C109,92 108,112 108,130 C108,140 109,146 109,151" stroke-width="2.2"/><path d="M124,56 C126,68 125,80 121,90 C119,96 118,101 118,105" stroke-width="2"/><path d="M128,90 C131,100 133,112 133,124" stroke-width="2"/><path d="M152,88 C147,98 143,110 142,124 C141,140 143,154 144,166" stroke-width="2.2"/><path d="M149,100 C153,110 158,122 161,134" stroke-width="2"/><path d="M167,88 C171,96 176,106 181,114 C184,120 186,126 187,130" stroke-width="2"/><path d="M184,96 C180,108 176,122 175,138 C174,156 176,176 177,190" stroke-width="2.2"/><path d="M72,134 C76,138 80,142 85,145" stroke-width="2"/><path d="M9,60 C5,68 2,76 0,84" stroke-width="2"/><path d="M14,4 C13,12 11,20 13,28 C15,34 16,38 16,42" stroke-width="2"/></g><g transform="translate(172.6,0)"><path d="M54,1 C59,10 60,20 57,30 C53,42 51,56 51,74 C50,90 53,98 51,106 C50,112 47,116 46,120" stroke-width="2.4"/><path d="M52,100 C57,108 61,116 64,127 C66,137 67,144 66,151" stroke-width="2.2"/><path d="M33,28 C41,30 48,25 54,13" stroke-width="2.2"/><path d="M54,31 C43,35 31,44 24,66" stroke-width="2.2"/><path d="M42,63 C37,70 33,80 30,88" stroke-width="2"/><path d="M33,100 C28,116 25,136 25,156 C25,170 27,181 27,190" stroke-width="2.2"/><path d="M81,4 C80,12 81,20 84,29 C85,36 83,40 81,44 C75,50 67,54 67,66" stroke-width="2.2"/><path d="M101,1 C98,11 92,20 84,26 C73,31 60,32 46,44" stroke-width="2.4"/><path d="M96,17 C98,29 103,40 107,48 C110,55 111,60 112,65" stroke-width="2.2"/><path d="M117,1 C114,9 111,17 114,26 C117,33 119,37 119,43" stroke-width="2"/><path d="M136,3 C144,14 151,25 155,37 C157,45 152,58 147,64" stroke-width="2.2"/><path d="M118,25 C129,28 140,39 146,51 C147,57 147,62 145,67" stroke-width="2"/><path d="M149,45 C160,47 171,52 182,60" stroke-width="2"/><path d="M141,55 C143,62 148,70 153,77" stroke-width="2"/><path d="M169,2 C166,11 164,21 167,29 C169,35 170,39 170,43" stroke-width="2"/><path d="M84,63 C78,75 73,88 70,104 C68,116 69,124 70,131" stroke-width="2.2"/><path d="M78,90 C82,100 85,112 87,122" stroke-width="2"/><path d="M107,66 C103,76 96,84 85,82" stroke-width="2.2"/><path d="M108,74 C109,92 108,112 108,130 C108,140 109,146 109,151" stroke-width="2.2"/><path d="M124,56 C126,68 125,80 121,90 C119,96 118,101 118,105" stroke-width="2"/><path d="M128,90 C131,100 133,112 133,124" stroke-width="2"/><path d="M152,88 C147,98 143,110 142,124 C141,140 143,154 144,166" stroke-width="2.2"/><path d="M149,100 C153,110 158,122 161,134" stroke-width="2"/><path d="M167,88 C171,96 176,106 181,114 C184,120 186,126 187,130" stroke-width="2"/><path d="M184,96 C180,108 176,122 175,138 C174,156 176,176 177,190" stroke-width="2.2"/><path d="M72,134 C76,138 80,142 85,145" stroke-width="2"/><path d="M9,60 C5,68 2,76 0,84" stroke-width="2"/><path d="M14,4 C13,12 11,20 13,28 C15,34 16,38 16,42" stroke-width="2"/></g><g transform="translate(558.9,0) scale(-1,1)"><path d="M54,1 C59,10 60,20 57,30 C53,42 51,56 51,74 C50,90 53,98 51,106 C50,112 47,116 46,120" stroke-width="2.4"/><path d="M52,100 C57,108 61,116 64,127 C66,137 67,144 66,151" stroke-width="2.2"/><path d="M33,28 C41,30 48,25 54,13" stroke-width="2.2"/><path d="M54,31 C43,35 31,44 24,66" stroke-width="2.2"/><path d="M42,63 C37,70 33,80 30,88" stroke-width="2"/><path d="M33,100 C28,116 25,136 25,156 C25,170 27,181 27,190" stroke-width="2.2"/><path d="M81,4 C80,12 81,20 84,29 C85,36 83,40 81,44 C75,50 67,54 67,66" stroke-width="2.2"/><path d="M101,1 C98,11 92,20 84,26 C73,31 60,32 46,44" stroke-width="2.4"/><path d="M96,17 C98,29 103,40 107,48 C110,55 111,60 112,65" stroke-width="2.2"/><path d="M117,1 C114,9 111,17 114,26 C117,33 119,37 119,43" stroke-width="2"/><path d="M136,3 C144,14 151,25 155,37 C157,45 152,58 147,64" stroke-width="2.2"/><path d="M118,25 C129,28 140,39 146,51 C147,57 147,62 145,67" stroke-width="2"/><path d="M149,45 C160,47 171,52 182,60" stroke-width="2"/><path d="M141,55 C143,62 148,70 153,77" stroke-width="2"/><path d="M169,2 C166,11 164,21 167,29 C169,35 170,39 170,43" stroke-width="2"/><path d="M84,63 C78,75 73,88 70,104 C68,116 69,124 70,131" stroke-width="2.2"/><path d="M78,90 C82,100 85,112 87,122" stroke-width="2"/><path d="M107,66 C103,76 96,84 85,82" stroke-width="2.2"/><path d="M108,74 C109,92 108,112 108,130 C108,140 109,146 109,151" stroke-width="2.2"/><path d="M124,56 C126,68 125,80 121,90 C119,96 118,101 118,105" stroke-width="2"/><path d="M128,90 C131,100 133,112 133,124" stroke-width="2"/><path d="M152,88 C147,98 143,110 142,124 C141,140 143,154 144,166" stroke-width="2.2"/><path d="M149,100 C153,110 158,122 161,134" stroke-width="2"/><path d="M167,88 C171,96 176,106 181,114 C184,120 186,126 187,130" stroke-width="2"/><path d="M184,96 C180,108 176,122 175,138 C174,156 176,176 177,190" stroke-width="2.2"/><path d="M72,134 C76,138 80,142 85,145" stroke-width="2"/><path d="M9,60 C5,68 2,76 0,84" stroke-width="2"/><path d="M14,4 C13,12 11,20 13,28 C15,34 16,38 16,42" stroke-width="2"/></g><g transform="translate(336.6,0)"><path d="M33,28 C41,30 48,25 54,13" stroke-width="2.2"/><path d="M42,63 C37,70 33,80 30,88" stroke-width="2"/><path d="M33,100 C28,116 25,136 25,156 C25,170 27,181 27,190" stroke-width="2.2"/><path d="M9,60 C5,68 2,76 0,84" stroke-width="2"/><path d="M14,4 C13,12 11,20 13,28 C15,34 16,38 16,42" stroke-width="2"/></g></g>
<rect x="117.8" y="102.3" width="8.6" height="30" fill="url(#tailB)"/><path d="M111.7,131.9 L135.1,131.9 L123,152.9 Z" fill="#143f5c" opacity="0.85"/><path d="M110.3,131.3 L133.9,131.3 L122.1,151.3 Z" fill="url(#headg)"/><rect x="225.1" y="102.3" width="8.6" height="30" fill="url(#tailB)"/><path d="M219,131.9 L242.4,131.9 L230.3,152.9 Z" fill="#143f5c" opacity="0.85"/><path d="M217.6,131.3 L241.2,131.3 L229.4,151.3 Z" fill="url(#headg)"/><rect x="332.4" y="102.3" width="8.6" height="30" fill="url(#tailB)"/><path d="M326.3,131.9 L349.7,131.9 L337.6,152.9 Z" fill="#143f5c" opacity="0.85"/><path d="M324.9,131.3 L348.5,131.3 L336.7,151.3 Z" fill="url(#headg)"/><rect x="439.7" y="102.3" width="8.6" height="30" fill="url(#tailB)"/><path d="M433.6,131.9 L457,131.9 L444.9,152.9 Z" fill="#143f5c" opacity="0.85"/><path d="M432.2,131.3 L455.8,131.3 L444,151.3 Z" fill="url(#headg)"/><rect x="51.2" y="127.8" width="8.6" height="29" fill="url(#tailB)"/><path d="M45.1,156.4 L68.5,156.4 L56.4,177.4 Z" fill="#143f5c" opacity="0.85"/><path d="M43.7,155.8 L67.3,155.8 L55.5,175.8 Z" fill="url(#headg)"/><rect x="169.7" y="127.8" width="8.6" height="29" fill="url(#tailB)"/><path d="M163.6,156.4 L187,156.4 L174.9,177.4 Z" fill="#143f5c" opacity="0.85"/><path d="M162.2,155.8 L185.8,155.8 L174,175.8 Z" fill="url(#headg)"/><rect x="278.7" y="127.8" width="8.6" height="29" fill="url(#tailB)"/><path d="M272.6,156.4 L296,156.4 L283.9,177.4 Z" fill="#143f5c" opacity="0.85"/><path d="M271.2,155.8 L294.8,155.8 L283,175.8 Z" fill="url(#headg)"/><rect x="385.7" y="127.8" width="8.6" height="29" fill="url(#tailB)"/><path d="M379.6,156.4 L403,156.4 L390.9,177.4 Z" fill="#143f5c" opacity="0.85"/><path d="M378.2,155.8 L401.8,155.8 L390,175.8 Z" fill="url(#headg)"/><rect x="506.7" y="127.8" width="8.6" height="29" fill="url(#tailB)"/><path d="M500.6,156.4 L524,156.4 L511.9,177.4 Z" fill="#143f5c" opacity="0.85"/><path d="M499.2,155.8 L522.8,155.8 L511,175.8 Z" fill="url(#headg)"/>
</g>
<path d="M15.5,0.4 L15.5,142 C15.5,149 25.5,147 25.5,157 L25.5,176.2 C25.5,186.2 31,191.2 42,191.2 L68.5,191.2 C95.3,191.2 104.9,175.3 122.1,175.3 C139.3,175.3 148.9,191.2 175.8,191.2 C202.6,191.2 212.2,175.3 229.4,175.3 C246.6,175.3 256.2,191.2 283.1,191.2 C309.9,191.2 319.5,175.3 336.7,175.3 C353.9,175.3 363.5,191.2 390.4,191.2 C417.2,191.2 426.8,175.3 444,175.3 C461.2,175.3 470.9,191.2 497.7,191.2 L525.6,191.2 C536.6,191.2 542.1,186.2 542.1,176.2 L542.1,157 C542.1,147 552.1,149 552.1,142 L552.1,0.4 Z" fill="none" stroke="#8a7a78" stroke-width="1" opacity="0.8"/>
<rect x="11.5" y="184" width="544.6" height="18" fill="#78cbed" opacity="0.97"/>
<rect x="11.5" y="184" width="544.6" height="1.6" fill="#a9e0f6" opacity="0.9"/>
<path d="M14,192 q25,-9 52,0 t50,2" fill="none" stroke="#a9e0f7" stroke-width="3" opacity="0.8"/><path d="M112,197 q25,-9 52,0 t50,2" fill="none" stroke="#a9e0f7" stroke-width="3" opacity="0.8"/><path d="M210,192 q25,-9 52,0 t50,2" fill="none" stroke="#a9e0f7" stroke-width="3" opacity="0.8"/><path d="M308,197 q25,-9 52,0 t50,2" fill="none" stroke="#a9e0f7" stroke-width="3" opacity="0.8"/><path d="M406,192 q25,-9 52,0 t50,2" fill="none" stroke="#a9e0f7" stroke-width="3" opacity="0.8"/>
<circle cx="445.2" cy="190.9" r="0.8" fill="#d8f2fc" opacity="0.8"/>
<circle cx="457.9" cy="187.7" r="1.1" fill="#d8f2fc" opacity="0.8"/>
<circle cx="315" cy="195.2" r="0.7" fill="#d8f2fc" opacity="0.8"/>
<circle cx="354.3" cy="193.5" r="1.5" fill="#d8f2fc" opacity="0.8"/>
<circle cx="29.3" cy="200.4" r="0.8" fill="#d8f2fc" opacity="0.8"/>
<circle cx="452.9" cy="193.6" r="1.4" fill="#d8f2fc" opacity="0.8"/>
<circle cx="112.7" cy="190.8" r="0.7" fill="#d8f2fc" opacity="0.8"/>
<circle cx="434.2" cy="194" r="0.8" fill="#d8f2fc" opacity="0.8"/>
<circle cx="117.4" cy="187.2" r="0.8" fill="#d8f2fc" opacity="0.8"/>
<circle cx="316.2" cy="192.6" r="1.3" fill="#d8f2fc" opacity="0.8"/>
<circle cx="55.2" cy="198.6" r="1.6" fill="#d8f2fc" opacity="0.8"/>
<circle cx="413.1" cy="197.1" r="1.4" fill="#d8f2fc" opacity="0.8"/>
<circle cx="65.2" cy="192.9" r="0.7" fill="#d8f2fc" opacity="0.8"/>
<circle cx="435.7" cy="194.1" r="0.7" fill="#d8f2fc" opacity="0.8"/>
<circle cx="254" cy="197.7" r="1.2" fill="#d8f2fc" opacity="0.8"/>
<circle cx="79.6" cy="200.1" r="0.7" fill="#d8f2fc" opacity="0.8"/>
<circle cx="468.9" cy="200.6" r="1.4" fill="#d8f2fc" opacity="0.8"/>
<circle cx="524.4" cy="194" r="0.8" fill="#d8f2fc" opacity="0.8"/>
<circle cx="268.8" cy="197.1" r="1.4" fill="#d8f2fc" opacity="0.8"/>
<circle cx="221.4" cy="200.2" r="0.6" fill="#d8f2fc" opacity="0.8"/>
<circle cx="281.5" cy="186.6" r="1" fill="#d8f2fc" opacity="0.8"/>
<circle cx="547.8" cy="187.8" r="1.6" fill="#d8f2fc" opacity="0.8"/>
<circle cx="502.4" cy="196.3" r="0.7" fill="#d8f2fc" opacity="0.8"/>
<circle cx="268.4" cy="196.4" r="0.7" fill="#d8f2fc" opacity="0.8"/>
<circle cx="174.9" cy="187.4" r="1.4" fill="#d8f2fc" opacity="0.8"/>
<circle cx="507.9" cy="199.9" r="1.4" fill="#d8f2fc" opacity="0.8"/>
<circle cx="324.6" cy="186.9" r="1.1" fill="#d8f2fc" opacity="0.8"/>
<circle cx="424.4" cy="197.3" r="0.6" fill="#d8f2fc" opacity="0.8"/>
<circle cx="18.4" cy="187.3" r="1.5" fill="#d8f2fc" opacity="0.8"/>
<circle cx="75.2" cy="191.9" r="1.1" fill="#d8f2fc" opacity="0.8"/>
<circle cx="490.9" cy="188" r="0.9" fill="#d8f2fc" opacity="0.8"/>
<circle cx="430.5" cy="187.3" r="0.8" fill="#d8f2fc" opacity="0.8"/>
<circle cx="27.5" cy="200.4" r="0.8" fill="#d8f2fc" opacity="0.8"/>
<circle cx="284.6" cy="191.7" r="1.6" fill="#d8f2fc" opacity="0.8"/>
<circle cx="398.2" cy="195" r="1.1" fill="#d8f2fc" opacity="0.8"/>
<circle cx="158.5" cy="198.6" r="0.7" fill="#d8f2fc" opacity="0.8"/>
<circle cx="349.5" cy="190.4" r="0.9" fill="#d8f2fc" opacity="0.8"/>
<circle cx="258.8" cy="188.8" r="1.2" fill="#d8f2fc" opacity="0.8"/>
<circle cx="52.2" cy="186.3" r="0.7" fill="#d8f2fc" opacity="0.8"/>
<circle cx="62.5" cy="199.2" r="1.1" fill="#d8f2fc" opacity="0.8"/>
</g>
<text x="121.6" y="82.6" font-family="Liberation Sans, Arial, sans-serif" font-weight="700" font-size="74" fill="#fff" stroke="#fff" stroke-width="1.5" stroke-linejoin="round" textLength="393" lengthAdjust="spacingAndGlyphs">UPGRADED</text>
<text x="533.8" y="82.6" font-family="Liberation Sans, Arial, sans-serif" font-weight="700" font-size="74" fill="#fff" stroke="#fff" stroke-width="1.5" stroke-linejoin="round" textLength="377.5" lengthAdjust="spacingAndGlyphs">DRAINAGE</text>
<text x="931.2" y="82.6" font-family="Liberation Sans, Arial, sans-serif" font-weight="700" font-size="74" fill="#fff" stroke="#fff" stroke-width="1.5" stroke-linejoin="round" textLength="265.3" lengthAdjust="spacingAndGlyphs">SYSTEM</text>
</svg>
<p class="txt" id="t1"><span id="a1">Each piece's ergonomic design features mutiple</span><span id="a2">drainage holes at the bottom to assist in flushing</span><span id="a3">out excess water from the soil.</span></p>
<p class="txt" id="t2"><span id="b1">The water tray in the base can be separated to</span><span id="b2">prevent water from overflowing and form water</span><span id="b3">storage.</span></p>
</body></html>
